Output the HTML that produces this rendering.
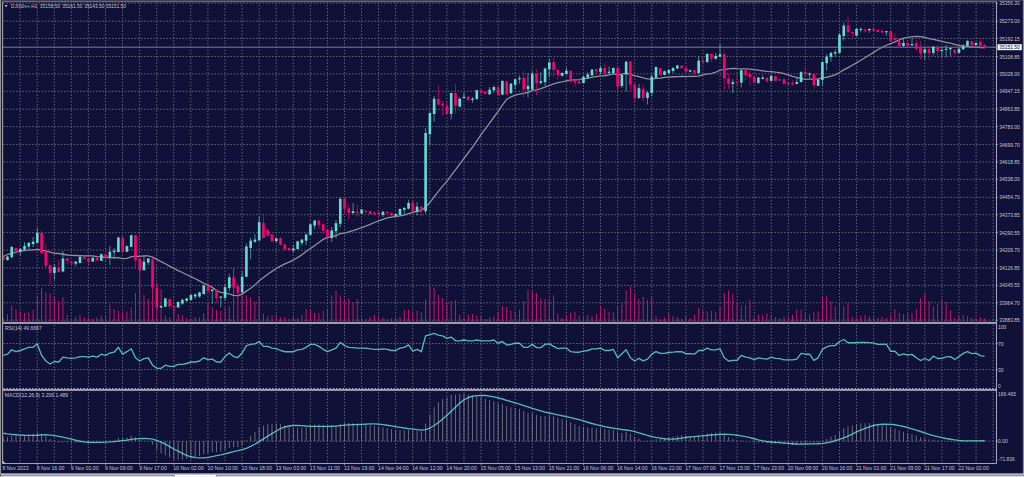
<!DOCTYPE html><html><head><meta charset="utf-8"><style>html,body{margin:0;padding:0;background:#101138;overflow:hidden}svg{display:block}text{font-family:"Liberation Sans", sans-serif}</style></head><body>
<svg width="1024" height="477" viewBox="0 0 1024 477">
<rect x="0" y="0" width="1024" height="477" fill="#101138"/>
<g>
<line x1="3.1" y1="3.20" x2="996.5" y2="3.20" stroke="#5a5c74" stroke-width="1" stroke-dasharray="1.6 1.6" stroke-dashoffset="3.06"/>
<line x1="3.1" y1="21.13" x2="996.5" y2="21.13" stroke="#5a5c74" stroke-width="1" stroke-dasharray="1.6 1.6" stroke-dashoffset="3.06"/>
<line x1="3.1" y1="38.54" x2="996.5" y2="38.54" stroke="#5a5c74" stroke-width="1" stroke-dasharray="1.6 1.6" stroke-dashoffset="3.06"/>
<line x1="3.1" y1="56.47" x2="996.5" y2="56.47" stroke="#5a5c74" stroke-width="1" stroke-dasharray="1.6 1.6" stroke-dashoffset="3.06"/>
<line x1="3.1" y1="73.88" x2="996.5" y2="73.88" stroke="#5a5c74" stroke-width="1" stroke-dasharray="1.6 1.6" stroke-dashoffset="3.06"/>
<line x1="3.1" y1="91.28" x2="996.5" y2="91.28" stroke="#5a5c74" stroke-width="1" stroke-dasharray="1.6 1.6" stroke-dashoffset="3.06"/>
<line x1="3.1" y1="109.22" x2="996.5" y2="109.22" stroke="#5a5c74" stroke-width="1" stroke-dasharray="1.6 1.6" stroke-dashoffset="3.06"/>
<line x1="3.1" y1="126.62" x2="996.5" y2="126.62" stroke="#5a5c74" stroke-width="1" stroke-dasharray="1.6 1.6" stroke-dashoffset="3.06"/>
<line x1="3.1" y1="144.56" x2="996.5" y2="144.56" stroke="#5a5c74" stroke-width="1" stroke-dasharray="1.6 1.6" stroke-dashoffset="3.06"/>
<line x1="3.1" y1="161.96" x2="996.5" y2="161.96" stroke="#5a5c74" stroke-width="1" stroke-dasharray="1.6 1.6" stroke-dashoffset="3.06"/>
<line x1="3.1" y1="179.37" x2="996.5" y2="179.37" stroke="#5a5c74" stroke-width="1" stroke-dasharray="1.6 1.6" stroke-dashoffset="3.06"/>
<line x1="3.1" y1="197.30" x2="996.5" y2="197.30" stroke="#5a5c74" stroke-width="1" stroke-dasharray="1.6 1.6" stroke-dashoffset="3.06"/>
<line x1="3.1" y1="214.71" x2="996.5" y2="214.71" stroke="#5a5c74" stroke-width="1" stroke-dasharray="1.6 1.6" stroke-dashoffset="3.06"/>
<line x1="3.1" y1="232.64" x2="996.5" y2="232.64" stroke="#5a5c74" stroke-width="1" stroke-dasharray="1.6 1.6" stroke-dashoffset="3.06"/>
<line x1="3.1" y1="250.05" x2="996.5" y2="250.05" stroke="#5a5c74" stroke-width="1" stroke-dasharray="1.6 1.6" stroke-dashoffset="3.06"/>
<line x1="3.1" y1="267.88" x2="996.5" y2="267.88" stroke="#5a5c74" stroke-width="1" stroke-dasharray="1.6 1.6" stroke-dashoffset="3.06"/>
<line x1="3.1" y1="285.39" x2="996.5" y2="285.39" stroke="#5a5c74" stroke-width="1" stroke-dasharray="1.6 1.6" stroke-dashoffset="3.06"/>
<line x1="3.1" y1="302.79" x2="996.5" y2="302.79" stroke="#5a5c74" stroke-width="1" stroke-dasharray="1.6 1.6" stroke-dashoffset="3.06"/>
<line x1="3.1" y1="320.20" x2="996.5" y2="320.20" stroke="#5a5c74" stroke-width="1" stroke-dasharray="1.6 1.6" stroke-dashoffset="3.06"/>
<line x1="20.12" y1="2.6" x2="20.12" y2="321.7" stroke="#5a5c74" stroke-width="1" stroke-dasharray="1.6 1.6" stroke-dashoffset="0.97"/>
<line x1="20.12" y1="324.3" x2="20.12" y2="388.5" stroke="#5a5c74" stroke-width="1" stroke-dasharray="1.6 1.6" stroke-dashoffset="2.67"/>
<line x1="20.12" y1="390.9" x2="20.12" y2="463.0" stroke="#5a5c74" stroke-width="1" stroke-dasharray="1.6 1.6" stroke-dashoffset="2.07"/>
<line x1="37.19" y1="2.6" x2="37.19" y2="321.7" stroke="#5a5c74" stroke-width="1" stroke-dasharray="1.6 1.6" stroke-dashoffset="0.97"/>
<line x1="37.19" y1="324.3" x2="37.19" y2="388.5" stroke="#5a5c74" stroke-width="1" stroke-dasharray="1.6 1.6" stroke-dashoffset="2.67"/>
<line x1="37.19" y1="390.9" x2="37.19" y2="463.0" stroke="#5a5c74" stroke-width="1" stroke-dasharray="1.6 1.6" stroke-dashoffset="2.07"/>
<line x1="54.26" y1="2.6" x2="54.26" y2="321.7" stroke="#5a5c74" stroke-width="1" stroke-dasharray="1.6 1.6" stroke-dashoffset="0.97"/>
<line x1="54.26" y1="324.3" x2="54.26" y2="388.5" stroke="#5a5c74" stroke-width="1" stroke-dasharray="1.6 1.6" stroke-dashoffset="2.67"/>
<line x1="54.26" y1="390.9" x2="54.26" y2="463.0" stroke="#5a5c74" stroke-width="1" stroke-dasharray="1.6 1.6" stroke-dashoffset="2.07"/>
<line x1="71.33" y1="2.6" x2="71.33" y2="321.7" stroke="#5a5c74" stroke-width="1" stroke-dasharray="1.6 1.6" stroke-dashoffset="0.97"/>
<line x1="71.33" y1="324.3" x2="71.33" y2="388.5" stroke="#5a5c74" stroke-width="1" stroke-dasharray="1.6 1.6" stroke-dashoffset="2.67"/>
<line x1="71.33" y1="390.9" x2="71.33" y2="463.0" stroke="#5a5c74" stroke-width="1" stroke-dasharray="1.6 1.6" stroke-dashoffset="2.07"/>
<line x1="88.40" y1="2.6" x2="88.40" y2="321.7" stroke="#5a5c74" stroke-width="1" stroke-dasharray="1.6 1.6" stroke-dashoffset="0.97"/>
<line x1="88.40" y1="324.3" x2="88.40" y2="388.5" stroke="#5a5c74" stroke-width="1" stroke-dasharray="1.6 1.6" stroke-dashoffset="2.67"/>
<line x1="88.40" y1="390.9" x2="88.40" y2="463.0" stroke="#5a5c74" stroke-width="1" stroke-dasharray="1.6 1.6" stroke-dashoffset="2.07"/>
<line x1="105.48" y1="2.6" x2="105.48" y2="321.7" stroke="#5a5c74" stroke-width="1" stroke-dasharray="1.6 1.6" stroke-dashoffset="0.97"/>
<line x1="105.48" y1="324.3" x2="105.48" y2="388.5" stroke="#5a5c74" stroke-width="1" stroke-dasharray="1.6 1.6" stroke-dashoffset="2.67"/>
<line x1="105.48" y1="390.9" x2="105.48" y2="463.0" stroke="#5a5c74" stroke-width="1" stroke-dasharray="1.6 1.6" stroke-dashoffset="2.07"/>
<line x1="122.55" y1="2.6" x2="122.55" y2="321.7" stroke="#5a5c74" stroke-width="1" stroke-dasharray="1.6 1.6" stroke-dashoffset="0.97"/>
<line x1="122.55" y1="324.3" x2="122.55" y2="388.5" stroke="#5a5c74" stroke-width="1" stroke-dasharray="1.6 1.6" stroke-dashoffset="2.67"/>
<line x1="122.55" y1="390.9" x2="122.55" y2="463.0" stroke="#5a5c74" stroke-width="1" stroke-dasharray="1.6 1.6" stroke-dashoffset="2.07"/>
<line x1="139.62" y1="2.6" x2="139.62" y2="321.7" stroke="#5a5c74" stroke-width="1" stroke-dasharray="1.6 1.6" stroke-dashoffset="0.97"/>
<line x1="139.62" y1="324.3" x2="139.62" y2="388.5" stroke="#5a5c74" stroke-width="1" stroke-dasharray="1.6 1.6" stroke-dashoffset="2.67"/>
<line x1="139.62" y1="390.9" x2="139.62" y2="463.0" stroke="#5a5c74" stroke-width="1" stroke-dasharray="1.6 1.6" stroke-dashoffset="2.07"/>
<line x1="156.69" y1="2.6" x2="156.69" y2="321.7" stroke="#5a5c74" stroke-width="1" stroke-dasharray="1.6 1.6" stroke-dashoffset="0.97"/>
<line x1="156.69" y1="324.3" x2="156.69" y2="388.5" stroke="#5a5c74" stroke-width="1" stroke-dasharray="1.6 1.6" stroke-dashoffset="2.67"/>
<line x1="156.69" y1="390.9" x2="156.69" y2="463.0" stroke="#5a5c74" stroke-width="1" stroke-dasharray="1.6 1.6" stroke-dashoffset="2.07"/>
<line x1="173.76" y1="2.6" x2="173.76" y2="321.7" stroke="#5a5c74" stroke-width="1" stroke-dasharray="1.6 1.6" stroke-dashoffset="0.97"/>
<line x1="173.76" y1="324.3" x2="173.76" y2="388.5" stroke="#5a5c74" stroke-width="1" stroke-dasharray="1.6 1.6" stroke-dashoffset="2.67"/>
<line x1="173.76" y1="390.9" x2="173.76" y2="463.0" stroke="#5a5c74" stroke-width="1" stroke-dasharray="1.6 1.6" stroke-dashoffset="2.07"/>
<line x1="190.83" y1="2.6" x2="190.83" y2="321.7" stroke="#5a5c74" stroke-width="1" stroke-dasharray="1.6 1.6" stroke-dashoffset="0.97"/>
<line x1="190.83" y1="324.3" x2="190.83" y2="388.5" stroke="#5a5c74" stroke-width="1" stroke-dasharray="1.6 1.6" stroke-dashoffset="2.67"/>
<line x1="190.83" y1="390.9" x2="190.83" y2="463.0" stroke="#5a5c74" stroke-width="1" stroke-dasharray="1.6 1.6" stroke-dashoffset="2.07"/>
<line x1="207.90" y1="2.6" x2="207.90" y2="321.7" stroke="#5a5c74" stroke-width="1" stroke-dasharray="1.6 1.6" stroke-dashoffset="0.97"/>
<line x1="207.90" y1="324.3" x2="207.90" y2="388.5" stroke="#5a5c74" stroke-width="1" stroke-dasharray="1.6 1.6" stroke-dashoffset="2.67"/>
<line x1="207.90" y1="390.9" x2="207.90" y2="463.0" stroke="#5a5c74" stroke-width="1" stroke-dasharray="1.6 1.6" stroke-dashoffset="2.07"/>
<line x1="224.97" y1="2.6" x2="224.97" y2="321.7" stroke="#5a5c74" stroke-width="1" stroke-dasharray="1.6 1.6" stroke-dashoffset="0.97"/>
<line x1="224.97" y1="324.3" x2="224.97" y2="388.5" stroke="#5a5c74" stroke-width="1" stroke-dasharray="1.6 1.6" stroke-dashoffset="2.67"/>
<line x1="224.97" y1="390.9" x2="224.97" y2="463.0" stroke="#5a5c74" stroke-width="1" stroke-dasharray="1.6 1.6" stroke-dashoffset="2.07"/>
<line x1="242.04" y1="2.6" x2="242.04" y2="321.7" stroke="#5a5c74" stroke-width="1" stroke-dasharray="1.6 1.6" stroke-dashoffset="0.97"/>
<line x1="242.04" y1="324.3" x2="242.04" y2="388.5" stroke="#5a5c74" stroke-width="1" stroke-dasharray="1.6 1.6" stroke-dashoffset="2.67"/>
<line x1="242.04" y1="390.9" x2="242.04" y2="463.0" stroke="#5a5c74" stroke-width="1" stroke-dasharray="1.6 1.6" stroke-dashoffset="2.07"/>
<line x1="259.11" y1="2.6" x2="259.11" y2="321.7" stroke="#5a5c74" stroke-width="1" stroke-dasharray="1.6 1.6" stroke-dashoffset="0.97"/>
<line x1="259.11" y1="324.3" x2="259.11" y2="388.5" stroke="#5a5c74" stroke-width="1" stroke-dasharray="1.6 1.6" stroke-dashoffset="2.67"/>
<line x1="259.11" y1="390.9" x2="259.11" y2="463.0" stroke="#5a5c74" stroke-width="1" stroke-dasharray="1.6 1.6" stroke-dashoffset="2.07"/>
<line x1="276.19" y1="2.6" x2="276.19" y2="321.7" stroke="#5a5c74" stroke-width="1" stroke-dasharray="1.6 1.6" stroke-dashoffset="0.97"/>
<line x1="276.19" y1="324.3" x2="276.19" y2="388.5" stroke="#5a5c74" stroke-width="1" stroke-dasharray="1.6 1.6" stroke-dashoffset="2.67"/>
<line x1="276.19" y1="390.9" x2="276.19" y2="463.0" stroke="#5a5c74" stroke-width="1" stroke-dasharray="1.6 1.6" stroke-dashoffset="2.07"/>
<line x1="293.26" y1="2.6" x2="293.26" y2="321.7" stroke="#5a5c74" stroke-width="1" stroke-dasharray="1.6 1.6" stroke-dashoffset="0.97"/>
<line x1="293.26" y1="324.3" x2="293.26" y2="388.5" stroke="#5a5c74" stroke-width="1" stroke-dasharray="1.6 1.6" stroke-dashoffset="2.67"/>
<line x1="293.26" y1="390.9" x2="293.26" y2="463.0" stroke="#5a5c74" stroke-width="1" stroke-dasharray="1.6 1.6" stroke-dashoffset="2.07"/>
<line x1="310.33" y1="2.6" x2="310.33" y2="321.7" stroke="#5a5c74" stroke-width="1" stroke-dasharray="1.6 1.6" stroke-dashoffset="0.97"/>
<line x1="310.33" y1="324.3" x2="310.33" y2="388.5" stroke="#5a5c74" stroke-width="1" stroke-dasharray="1.6 1.6" stroke-dashoffset="2.67"/>
<line x1="310.33" y1="390.9" x2="310.33" y2="463.0" stroke="#5a5c74" stroke-width="1" stroke-dasharray="1.6 1.6" stroke-dashoffset="2.07"/>
<line x1="327.40" y1="2.6" x2="327.40" y2="321.7" stroke="#5a5c74" stroke-width="1" stroke-dasharray="1.6 1.6" stroke-dashoffset="0.97"/>
<line x1="327.40" y1="324.3" x2="327.40" y2="388.5" stroke="#5a5c74" stroke-width="1" stroke-dasharray="1.6 1.6" stroke-dashoffset="2.67"/>
<line x1="327.40" y1="390.9" x2="327.40" y2="463.0" stroke="#5a5c74" stroke-width="1" stroke-dasharray="1.6 1.6" stroke-dashoffset="2.07"/>
<line x1="344.47" y1="2.6" x2="344.47" y2="321.7" stroke="#5a5c74" stroke-width="1" stroke-dasharray="1.6 1.6" stroke-dashoffset="0.97"/>
<line x1="344.47" y1="324.3" x2="344.47" y2="388.5" stroke="#5a5c74" stroke-width="1" stroke-dasharray="1.6 1.6" stroke-dashoffset="2.67"/>
<line x1="344.47" y1="390.9" x2="344.47" y2="463.0" stroke="#5a5c74" stroke-width="1" stroke-dasharray="1.6 1.6" stroke-dashoffset="2.07"/>
<line x1="361.54" y1="2.6" x2="361.54" y2="321.7" stroke="#5a5c74" stroke-width="1" stroke-dasharray="1.6 1.6" stroke-dashoffset="0.97"/>
<line x1="361.54" y1="324.3" x2="361.54" y2="388.5" stroke="#5a5c74" stroke-width="1" stroke-dasharray="1.6 1.6" stroke-dashoffset="2.67"/>
<line x1="361.54" y1="390.9" x2="361.54" y2="463.0" stroke="#5a5c74" stroke-width="1" stroke-dasharray="1.6 1.6" stroke-dashoffset="2.07"/>
<line x1="378.61" y1="2.6" x2="378.61" y2="321.7" stroke="#5a5c74" stroke-width="1" stroke-dasharray="1.6 1.6" stroke-dashoffset="0.97"/>
<line x1="378.61" y1="324.3" x2="378.61" y2="388.5" stroke="#5a5c74" stroke-width="1" stroke-dasharray="1.6 1.6" stroke-dashoffset="2.67"/>
<line x1="378.61" y1="390.9" x2="378.61" y2="463.0" stroke="#5a5c74" stroke-width="1" stroke-dasharray="1.6 1.6" stroke-dashoffset="2.07"/>
<line x1="395.68" y1="2.6" x2="395.68" y2="321.7" stroke="#5a5c74" stroke-width="1" stroke-dasharray="1.6 1.6" stroke-dashoffset="0.97"/>
<line x1="395.68" y1="324.3" x2="395.68" y2="388.5" stroke="#5a5c74" stroke-width="1" stroke-dasharray="1.6 1.6" stroke-dashoffset="2.67"/>
<line x1="395.68" y1="390.9" x2="395.68" y2="463.0" stroke="#5a5c74" stroke-width="1" stroke-dasharray="1.6 1.6" stroke-dashoffset="2.07"/>
<line x1="412.75" y1="2.6" x2="412.75" y2="321.7" stroke="#5a5c74" stroke-width="1" stroke-dasharray="1.6 1.6" stroke-dashoffset="0.97"/>
<line x1="412.75" y1="324.3" x2="412.75" y2="388.5" stroke="#5a5c74" stroke-width="1" stroke-dasharray="1.6 1.6" stroke-dashoffset="2.67"/>
<line x1="412.75" y1="390.9" x2="412.75" y2="463.0" stroke="#5a5c74" stroke-width="1" stroke-dasharray="1.6 1.6" stroke-dashoffset="2.07"/>
<line x1="429.82" y1="2.6" x2="429.82" y2="321.7" stroke="#5a5c74" stroke-width="1" stroke-dasharray="1.6 1.6" stroke-dashoffset="0.97"/>
<line x1="429.82" y1="324.3" x2="429.82" y2="388.5" stroke="#5a5c74" stroke-width="1" stroke-dasharray="1.6 1.6" stroke-dashoffset="2.67"/>
<line x1="429.82" y1="390.9" x2="429.82" y2="463.0" stroke="#5a5c74" stroke-width="1" stroke-dasharray="1.6 1.6" stroke-dashoffset="2.07"/>
<line x1="446.90" y1="2.6" x2="446.90" y2="321.7" stroke="#5a5c74" stroke-width="1" stroke-dasharray="1.6 1.6" stroke-dashoffset="0.97"/>
<line x1="446.90" y1="324.3" x2="446.90" y2="388.5" stroke="#5a5c74" stroke-width="1" stroke-dasharray="1.6 1.6" stroke-dashoffset="2.67"/>
<line x1="446.90" y1="390.9" x2="446.90" y2="463.0" stroke="#5a5c74" stroke-width="1" stroke-dasharray="1.6 1.6" stroke-dashoffset="2.07"/>
<line x1="463.97" y1="2.6" x2="463.97" y2="321.7" stroke="#5a5c74" stroke-width="1" stroke-dasharray="1.6 1.6" stroke-dashoffset="0.97"/>
<line x1="463.97" y1="324.3" x2="463.97" y2="388.5" stroke="#5a5c74" stroke-width="1" stroke-dasharray="1.6 1.6" stroke-dashoffset="2.67"/>
<line x1="463.97" y1="390.9" x2="463.97" y2="463.0" stroke="#5a5c74" stroke-width="1" stroke-dasharray="1.6 1.6" stroke-dashoffset="2.07"/>
<line x1="481.04" y1="2.6" x2="481.04" y2="321.7" stroke="#5a5c74" stroke-width="1" stroke-dasharray="1.6 1.6" stroke-dashoffset="0.97"/>
<line x1="481.04" y1="324.3" x2="481.04" y2="388.5" stroke="#5a5c74" stroke-width="1" stroke-dasharray="1.6 1.6" stroke-dashoffset="2.67"/>
<line x1="481.04" y1="390.9" x2="481.04" y2="463.0" stroke="#5a5c74" stroke-width="1" stroke-dasharray="1.6 1.6" stroke-dashoffset="2.07"/>
<line x1="498.11" y1="2.6" x2="498.11" y2="321.7" stroke="#5a5c74" stroke-width="1" stroke-dasharray="1.6 1.6" stroke-dashoffset="0.97"/>
<line x1="498.11" y1="324.3" x2="498.11" y2="388.5" stroke="#5a5c74" stroke-width="1" stroke-dasharray="1.6 1.6" stroke-dashoffset="2.67"/>
<line x1="498.11" y1="390.9" x2="498.11" y2="463.0" stroke="#5a5c74" stroke-width="1" stroke-dasharray="1.6 1.6" stroke-dashoffset="2.07"/>
<line x1="515.18" y1="2.6" x2="515.18" y2="321.7" stroke="#5a5c74" stroke-width="1" stroke-dasharray="1.6 1.6" stroke-dashoffset="0.97"/>
<line x1="515.18" y1="324.3" x2="515.18" y2="388.5" stroke="#5a5c74" stroke-width="1" stroke-dasharray="1.6 1.6" stroke-dashoffset="2.67"/>
<line x1="515.18" y1="390.9" x2="515.18" y2="463.0" stroke="#5a5c74" stroke-width="1" stroke-dasharray="1.6 1.6" stroke-dashoffset="2.07"/>
<line x1="532.25" y1="2.6" x2="532.25" y2="321.7" stroke="#5a5c74" stroke-width="1" stroke-dasharray="1.6 1.6" stroke-dashoffset="0.97"/>
<line x1="532.25" y1="324.3" x2="532.25" y2="388.5" stroke="#5a5c74" stroke-width="1" stroke-dasharray="1.6 1.6" stroke-dashoffset="2.67"/>
<line x1="532.25" y1="390.9" x2="532.25" y2="463.0" stroke="#5a5c74" stroke-width="1" stroke-dasharray="1.6 1.6" stroke-dashoffset="2.07"/>
<line x1="549.32" y1="2.6" x2="549.32" y2="321.7" stroke="#5a5c74" stroke-width="1" stroke-dasharray="1.6 1.6" stroke-dashoffset="0.97"/>
<line x1="549.32" y1="324.3" x2="549.32" y2="388.5" stroke="#5a5c74" stroke-width="1" stroke-dasharray="1.6 1.6" stroke-dashoffset="2.67"/>
<line x1="549.32" y1="390.9" x2="549.32" y2="463.0" stroke="#5a5c74" stroke-width="1" stroke-dasharray="1.6 1.6" stroke-dashoffset="2.07"/>
<line x1="566.39" y1="2.6" x2="566.39" y2="321.7" stroke="#5a5c74" stroke-width="1" stroke-dasharray="1.6 1.6" stroke-dashoffset="0.97"/>
<line x1="566.39" y1="324.3" x2="566.39" y2="388.5" stroke="#5a5c74" stroke-width="1" stroke-dasharray="1.6 1.6" stroke-dashoffset="2.67"/>
<line x1="566.39" y1="390.9" x2="566.39" y2="463.0" stroke="#5a5c74" stroke-width="1" stroke-dasharray="1.6 1.6" stroke-dashoffset="2.07"/>
<line x1="583.46" y1="2.6" x2="583.46" y2="321.7" stroke="#5a5c74" stroke-width="1" stroke-dasharray="1.6 1.6" stroke-dashoffset="0.97"/>
<line x1="583.46" y1="324.3" x2="583.46" y2="388.5" stroke="#5a5c74" stroke-width="1" stroke-dasharray="1.6 1.6" stroke-dashoffset="2.67"/>
<line x1="583.46" y1="390.9" x2="583.46" y2="463.0" stroke="#5a5c74" stroke-width="1" stroke-dasharray="1.6 1.6" stroke-dashoffset="2.07"/>
<line x1="600.53" y1="2.6" x2="600.53" y2="321.7" stroke="#5a5c74" stroke-width="1" stroke-dasharray="1.6 1.6" stroke-dashoffset="0.97"/>
<line x1="600.53" y1="324.3" x2="600.53" y2="388.5" stroke="#5a5c74" stroke-width="1" stroke-dasharray="1.6 1.6" stroke-dashoffset="2.67"/>
<line x1="600.53" y1="390.9" x2="600.53" y2="463.0" stroke="#5a5c74" stroke-width="1" stroke-dasharray="1.6 1.6" stroke-dashoffset="2.07"/>
<line x1="617.61" y1="2.6" x2="617.61" y2="321.7" stroke="#5a5c74" stroke-width="1" stroke-dasharray="1.6 1.6" stroke-dashoffset="0.97"/>
<line x1="617.61" y1="324.3" x2="617.61" y2="388.5" stroke="#5a5c74" stroke-width="1" stroke-dasharray="1.6 1.6" stroke-dashoffset="2.67"/>
<line x1="617.61" y1="390.9" x2="617.61" y2="463.0" stroke="#5a5c74" stroke-width="1" stroke-dasharray="1.6 1.6" stroke-dashoffset="2.07"/>
<line x1="634.68" y1="2.6" x2="634.68" y2="321.7" stroke="#5a5c74" stroke-width="1" stroke-dasharray="1.6 1.6" stroke-dashoffset="0.97"/>
<line x1="634.68" y1="324.3" x2="634.68" y2="388.5" stroke="#5a5c74" stroke-width="1" stroke-dasharray="1.6 1.6" stroke-dashoffset="2.67"/>
<line x1="634.68" y1="390.9" x2="634.68" y2="463.0" stroke="#5a5c74" stroke-width="1" stroke-dasharray="1.6 1.6" stroke-dashoffset="2.07"/>
<line x1="651.75" y1="2.6" x2="651.75" y2="321.7" stroke="#5a5c74" stroke-width="1" stroke-dasharray="1.6 1.6" stroke-dashoffset="0.97"/>
<line x1="651.75" y1="324.3" x2="651.75" y2="388.5" stroke="#5a5c74" stroke-width="1" stroke-dasharray="1.6 1.6" stroke-dashoffset="2.67"/>
<line x1="651.75" y1="390.9" x2="651.75" y2="463.0" stroke="#5a5c74" stroke-width="1" stroke-dasharray="1.6 1.6" stroke-dashoffset="2.07"/>
<line x1="668.82" y1="2.6" x2="668.82" y2="321.7" stroke="#5a5c74" stroke-width="1" stroke-dasharray="1.6 1.6" stroke-dashoffset="0.97"/>
<line x1="668.82" y1="324.3" x2="668.82" y2="388.5" stroke="#5a5c74" stroke-width="1" stroke-dasharray="1.6 1.6" stroke-dashoffset="2.67"/>
<line x1="668.82" y1="390.9" x2="668.82" y2="463.0" stroke="#5a5c74" stroke-width="1" stroke-dasharray="1.6 1.6" stroke-dashoffset="2.07"/>
<line x1="685.89" y1="2.6" x2="685.89" y2="321.7" stroke="#5a5c74" stroke-width="1" stroke-dasharray="1.6 1.6" stroke-dashoffset="0.97"/>
<line x1="685.89" y1="324.3" x2="685.89" y2="388.5" stroke="#5a5c74" stroke-width="1" stroke-dasharray="1.6 1.6" stroke-dashoffset="2.67"/>
<line x1="685.89" y1="390.9" x2="685.89" y2="463.0" stroke="#5a5c74" stroke-width="1" stroke-dasharray="1.6 1.6" stroke-dashoffset="2.07"/>
<line x1="702.96" y1="2.6" x2="702.96" y2="321.7" stroke="#5a5c74" stroke-width="1" stroke-dasharray="1.6 1.6" stroke-dashoffset="0.97"/>
<line x1="702.96" y1="324.3" x2="702.96" y2="388.5" stroke="#5a5c74" stroke-width="1" stroke-dasharray="1.6 1.6" stroke-dashoffset="2.67"/>
<line x1="702.96" y1="390.9" x2="702.96" y2="463.0" stroke="#5a5c74" stroke-width="1" stroke-dasharray="1.6 1.6" stroke-dashoffset="2.07"/>
<line x1="720.03" y1="2.6" x2="720.03" y2="321.7" stroke="#5a5c74" stroke-width="1" stroke-dasharray="1.6 1.6" stroke-dashoffset="0.97"/>
<line x1="720.03" y1="324.3" x2="720.03" y2="388.5" stroke="#5a5c74" stroke-width="1" stroke-dasharray="1.6 1.6" stroke-dashoffset="2.67"/>
<line x1="720.03" y1="390.9" x2="720.03" y2="463.0" stroke="#5a5c74" stroke-width="1" stroke-dasharray="1.6 1.6" stroke-dashoffset="2.07"/>
<line x1="737.10" y1="2.6" x2="737.10" y2="321.7" stroke="#5a5c74" stroke-width="1" stroke-dasharray="1.6 1.6" stroke-dashoffset="0.97"/>
<line x1="737.10" y1="324.3" x2="737.10" y2="388.5" stroke="#5a5c74" stroke-width="1" stroke-dasharray="1.6 1.6" stroke-dashoffset="2.67"/>
<line x1="737.10" y1="390.9" x2="737.10" y2="463.0" stroke="#5a5c74" stroke-width="1" stroke-dasharray="1.6 1.6" stroke-dashoffset="2.07"/>
<line x1="754.17" y1="2.6" x2="754.17" y2="321.7" stroke="#5a5c74" stroke-width="1" stroke-dasharray="1.6 1.6" stroke-dashoffset="0.97"/>
<line x1="754.17" y1="324.3" x2="754.17" y2="388.5" stroke="#5a5c74" stroke-width="1" stroke-dasharray="1.6 1.6" stroke-dashoffset="2.67"/>
<line x1="754.17" y1="390.9" x2="754.17" y2="463.0" stroke="#5a5c74" stroke-width="1" stroke-dasharray="1.6 1.6" stroke-dashoffset="2.07"/>
<line x1="771.24" y1="2.6" x2="771.24" y2="321.7" stroke="#5a5c74" stroke-width="1" stroke-dasharray="1.6 1.6" stroke-dashoffset="0.97"/>
<line x1="771.24" y1="324.3" x2="771.24" y2="388.5" stroke="#5a5c74" stroke-width="1" stroke-dasharray="1.6 1.6" stroke-dashoffset="2.67"/>
<line x1="771.24" y1="390.9" x2="771.24" y2="463.0" stroke="#5a5c74" stroke-width="1" stroke-dasharray="1.6 1.6" stroke-dashoffset="2.07"/>
<line x1="788.32" y1="2.6" x2="788.32" y2="321.7" stroke="#5a5c74" stroke-width="1" stroke-dasharray="1.6 1.6" stroke-dashoffset="0.97"/>
<line x1="788.32" y1="324.3" x2="788.32" y2="388.5" stroke="#5a5c74" stroke-width="1" stroke-dasharray="1.6 1.6" stroke-dashoffset="2.67"/>
<line x1="788.32" y1="390.9" x2="788.32" y2="463.0" stroke="#5a5c74" stroke-width="1" stroke-dasharray="1.6 1.6" stroke-dashoffset="2.07"/>
<line x1="805.39" y1="2.6" x2="805.39" y2="321.7" stroke="#5a5c74" stroke-width="1" stroke-dasharray="1.6 1.6" stroke-dashoffset="0.97"/>
<line x1="805.39" y1="324.3" x2="805.39" y2="388.5" stroke="#5a5c74" stroke-width="1" stroke-dasharray="1.6 1.6" stroke-dashoffset="2.67"/>
<line x1="805.39" y1="390.9" x2="805.39" y2="463.0" stroke="#5a5c74" stroke-width="1" stroke-dasharray="1.6 1.6" stroke-dashoffset="2.07"/>
<line x1="822.46" y1="2.6" x2="822.46" y2="321.7" stroke="#5a5c74" stroke-width="1" stroke-dasharray="1.6 1.6" stroke-dashoffset="0.97"/>
<line x1="822.46" y1="324.3" x2="822.46" y2="388.5" stroke="#5a5c74" stroke-width="1" stroke-dasharray="1.6 1.6" stroke-dashoffset="2.67"/>
<line x1="822.46" y1="390.9" x2="822.46" y2="463.0" stroke="#5a5c74" stroke-width="1" stroke-dasharray="1.6 1.6" stroke-dashoffset="2.07"/>
<line x1="839.53" y1="2.6" x2="839.53" y2="321.7" stroke="#5a5c74" stroke-width="1" stroke-dasharray="1.6 1.6" stroke-dashoffset="0.97"/>
<line x1="839.53" y1="324.3" x2="839.53" y2="388.5" stroke="#5a5c74" stroke-width="1" stroke-dasharray="1.6 1.6" stroke-dashoffset="2.67"/>
<line x1="839.53" y1="390.9" x2="839.53" y2="463.0" stroke="#5a5c74" stroke-width="1" stroke-dasharray="1.6 1.6" stroke-dashoffset="2.07"/>
<line x1="856.60" y1="2.6" x2="856.60" y2="321.7" stroke="#5a5c74" stroke-width="1" stroke-dasharray="1.6 1.6" stroke-dashoffset="0.97"/>
<line x1="856.60" y1="324.3" x2="856.60" y2="388.5" stroke="#5a5c74" stroke-width="1" stroke-dasharray="1.6 1.6" stroke-dashoffset="2.67"/>
<line x1="856.60" y1="390.9" x2="856.60" y2="463.0" stroke="#5a5c74" stroke-width="1" stroke-dasharray="1.6 1.6" stroke-dashoffset="2.07"/>
<line x1="873.67" y1="2.6" x2="873.67" y2="321.7" stroke="#5a5c74" stroke-width="1" stroke-dasharray="1.6 1.6" stroke-dashoffset="0.97"/>
<line x1="873.67" y1="324.3" x2="873.67" y2="388.5" stroke="#5a5c74" stroke-width="1" stroke-dasharray="1.6 1.6" stroke-dashoffset="2.67"/>
<line x1="873.67" y1="390.9" x2="873.67" y2="463.0" stroke="#5a5c74" stroke-width="1" stroke-dasharray="1.6 1.6" stroke-dashoffset="2.07"/>
<line x1="890.74" y1="2.6" x2="890.74" y2="321.7" stroke="#5a5c74" stroke-width="1" stroke-dasharray="1.6 1.6" stroke-dashoffset="0.97"/>
<line x1="890.74" y1="324.3" x2="890.74" y2="388.5" stroke="#5a5c74" stroke-width="1" stroke-dasharray="1.6 1.6" stroke-dashoffset="2.67"/>
<line x1="890.74" y1="390.9" x2="890.74" y2="463.0" stroke="#5a5c74" stroke-width="1" stroke-dasharray="1.6 1.6" stroke-dashoffset="2.07"/>
<line x1="907.81" y1="2.6" x2="907.81" y2="321.7" stroke="#5a5c74" stroke-width="1" stroke-dasharray="1.6 1.6" stroke-dashoffset="0.97"/>
<line x1="907.81" y1="324.3" x2="907.81" y2="388.5" stroke="#5a5c74" stroke-width="1" stroke-dasharray="1.6 1.6" stroke-dashoffset="2.67"/>
<line x1="907.81" y1="390.9" x2="907.81" y2="463.0" stroke="#5a5c74" stroke-width="1" stroke-dasharray="1.6 1.6" stroke-dashoffset="2.07"/>
<line x1="924.88" y1="2.6" x2="924.88" y2="321.7" stroke="#5a5c74" stroke-width="1" stroke-dasharray="1.6 1.6" stroke-dashoffset="0.97"/>
<line x1="924.88" y1="324.3" x2="924.88" y2="388.5" stroke="#5a5c74" stroke-width="1" stroke-dasharray="1.6 1.6" stroke-dashoffset="2.67"/>
<line x1="924.88" y1="390.9" x2="924.88" y2="463.0" stroke="#5a5c74" stroke-width="1" stroke-dasharray="1.6 1.6" stroke-dashoffset="2.07"/>
<line x1="941.95" y1="2.6" x2="941.95" y2="321.7" stroke="#5a5c74" stroke-width="1" stroke-dasharray="1.6 1.6" stroke-dashoffset="0.97"/>
<line x1="941.95" y1="324.3" x2="941.95" y2="388.5" stroke="#5a5c74" stroke-width="1" stroke-dasharray="1.6 1.6" stroke-dashoffset="2.67"/>
<line x1="941.95" y1="390.9" x2="941.95" y2="463.0" stroke="#5a5c74" stroke-width="1" stroke-dasharray="1.6 1.6" stroke-dashoffset="2.07"/>
<line x1="959.03" y1="2.6" x2="959.03" y2="321.7" stroke="#5a5c74" stroke-width="1" stroke-dasharray="1.6 1.6" stroke-dashoffset="0.97"/>
<line x1="959.03" y1="324.3" x2="959.03" y2="388.5" stroke="#5a5c74" stroke-width="1" stroke-dasharray="1.6 1.6" stroke-dashoffset="2.67"/>
<line x1="959.03" y1="390.9" x2="959.03" y2="463.0" stroke="#5a5c74" stroke-width="1" stroke-dasharray="1.6 1.6" stroke-dashoffset="2.07"/>
<line x1="976.10" y1="2.6" x2="976.10" y2="321.7" stroke="#5a5c74" stroke-width="1" stroke-dasharray="1.6 1.6" stroke-dashoffset="0.97"/>
<line x1="976.10" y1="324.3" x2="976.10" y2="388.5" stroke="#5a5c74" stroke-width="1" stroke-dasharray="1.6 1.6" stroke-dashoffset="2.67"/>
<line x1="976.10" y1="390.9" x2="976.10" y2="463.0" stroke="#5a5c74" stroke-width="1" stroke-dasharray="1.6 1.6" stroke-dashoffset="2.07"/>
<line x1="993.17" y1="2.6" x2="993.17" y2="321.7" stroke="#5a5c74" stroke-width="1" stroke-dasharray="1.6 1.6" stroke-dashoffset="0.97"/>
<line x1="993.17" y1="324.3" x2="993.17" y2="388.5" stroke="#5a5c74" stroke-width="1" stroke-dasharray="1.6 1.6" stroke-dashoffset="2.67"/>
<line x1="993.17" y1="390.9" x2="993.17" y2="463.0" stroke="#5a5c74" stroke-width="1" stroke-dasharray="1.6 1.6" stroke-dashoffset="2.07"/>
<line x1="3.1" y1="343.50" x2="996.5" y2="343.50" stroke="#5a5c74" stroke-width="1" stroke-dasharray="1.6 1.6" stroke-dashoffset="3.06"/>
<line x1="3.1" y1="369.60" x2="996.5" y2="369.60" stroke="#5a5c74" stroke-width="1" stroke-dasharray="1.6 1.6" stroke-dashoffset="3.06"/>
<line x1="3.1" y1="441.20" x2="996.5" y2="441.20" stroke="#5a5c74" stroke-width="1" stroke-dasharray="1.6 1.6" stroke-dashoffset="3.06"/>
</g>
<g stroke="#c0146a" stroke-width="1">
<line x1="3.20" y1="317.3" x2="3.20" y2="321.5"/>
<line x1="7.47" y1="314.0" x2="7.47" y2="321.5"/>
<line x1="11.73" y1="305.7" x2="11.73" y2="321.5"/>
<line x1="16.00" y1="309.0" x2="16.00" y2="321.5"/>
<line x1="20.27" y1="311.5" x2="20.27" y2="321.5"/>
<line x1="24.53" y1="312.8" x2="24.53" y2="321.5"/>
<line x1="28.80" y1="312.3" x2="28.80" y2="321.5"/>
<line x1="33.07" y1="309.9" x2="33.07" y2="321.5"/>
<line x1="37.33" y1="295.8" x2="37.33" y2="321.5"/>
<line x1="41.60" y1="288.0" x2="41.60" y2="321.5"/>
<line x1="45.87" y1="292.4" x2="45.87" y2="321.5"/>
<line x1="50.13" y1="293.3" x2="50.13" y2="321.5"/>
<line x1="54.40" y1="296.6" x2="54.40" y2="321.5"/>
<line x1="58.67" y1="300.7" x2="58.67" y2="321.5"/>
<line x1="62.93" y1="296.9" x2="62.93" y2="321.5"/>
<line x1="67.20" y1="314.8" x2="67.20" y2="321.5"/>
<line x1="71.47" y1="318.5" x2="71.47" y2="321.5"/>
<line x1="75.73" y1="316.8" x2="75.73" y2="321.5"/>
<line x1="80.00" y1="314.8" x2="80.00" y2="321.5"/>
<line x1="84.27" y1="317.3" x2="84.27" y2="321.5"/>
<line x1="88.53" y1="317.8" x2="88.53" y2="321.5"/>
<line x1="92.80" y1="319.0" x2="92.80" y2="321.5"/>
<line x1="97.07" y1="317.3" x2="97.07" y2="321.5"/>
<line x1="101.33" y1="315.7" x2="101.33" y2="321.5"/>
<line x1="105.60" y1="314.8" x2="105.60" y2="321.5"/>
<line x1="109.87" y1="304.5" x2="109.87" y2="321.5"/>
<line x1="114.13" y1="309.0" x2="114.13" y2="321.5"/>
<line x1="118.40" y1="310.7" x2="118.40" y2="321.5"/>
<line x1="122.67" y1="311.5" x2="122.67" y2="321.5"/>
<line x1="126.93" y1="311.5" x2="126.93" y2="321.5"/>
<line x1="131.20" y1="307.4" x2="131.20" y2="321.5"/>
<line x1="135.47" y1="292.9" x2="135.47" y2="321.5"/>
<line x1="139.73" y1="268.0" x2="139.73" y2="321.5"/>
<line x1="144.00" y1="294.9" x2="144.00" y2="321.5"/>
<line x1="148.27" y1="299.0" x2="148.27" y2="321.5"/>
<line x1="152.53" y1="283.0" x2="152.53" y2="321.5"/>
<line x1="156.80" y1="283.3" x2="156.80" y2="321.5"/>
<line x1="161.07" y1="289.0" x2="161.07" y2="321.5"/>
<line x1="165.33" y1="315.6" x2="165.33" y2="321.5"/>
<line x1="169.60" y1="317.3" x2="169.60" y2="321.5"/>
<line x1="173.87" y1="306.0" x2="173.87" y2="321.5"/>
<line x1="178.13" y1="314.0" x2="178.13" y2="321.5"/>
<line x1="182.40" y1="314.8" x2="182.40" y2="321.5"/>
<line x1="186.67" y1="318.1" x2="186.67" y2="321.5"/>
<line x1="190.93" y1="319.0" x2="190.93" y2="321.5"/>
<line x1="195.20" y1="316.8" x2="195.20" y2="321.5"/>
<line x1="199.47" y1="317.3" x2="199.47" y2="321.5"/>
<line x1="203.73" y1="313.2" x2="203.73" y2="321.5"/>
<line x1="208.00" y1="304.0" x2="208.00" y2="321.5"/>
<line x1="212.27" y1="306.9" x2="212.27" y2="321.5"/>
<line x1="216.53" y1="309.8" x2="216.53" y2="321.5"/>
<line x1="220.80" y1="310.7" x2="220.80" y2="321.5"/>
<line x1="225.07" y1="307.8" x2="225.07" y2="321.5"/>
<line x1="229.34" y1="306.5" x2="229.34" y2="321.5"/>
<line x1="233.60" y1="268.0" x2="233.60" y2="321.5"/>
<line x1="237.87" y1="293.2" x2="237.87" y2="321.5"/>
<line x1="242.14" y1="294.9" x2="242.14" y2="321.5"/>
<line x1="246.40" y1="295.7" x2="246.40" y2="321.5"/>
<line x1="250.67" y1="296.9" x2="250.67" y2="321.5"/>
<line x1="254.94" y1="301.5" x2="254.94" y2="321.5"/>
<line x1="259.20" y1="296.2" x2="259.20" y2="321.5"/>
<line x1="263.47" y1="313.5" x2="263.47" y2="321.5"/>
<line x1="267.74" y1="316.1" x2="267.74" y2="321.5"/>
<line x1="272.00" y1="315.6" x2="272.00" y2="321.5"/>
<line x1="276.27" y1="314.8" x2="276.27" y2="321.5"/>
<line x1="280.54" y1="317.3" x2="280.54" y2="321.5"/>
<line x1="284.80" y1="316.8" x2="284.80" y2="321.5"/>
<line x1="289.07" y1="318.5" x2="289.07" y2="321.5"/>
<line x1="293.34" y1="316.5" x2="293.34" y2="321.5"/>
<line x1="297.60" y1="318.1" x2="297.60" y2="321.5"/>
<line x1="301.87" y1="314.8" x2="301.87" y2="321.5"/>
<line x1="306.14" y1="309.0" x2="306.14" y2="321.5"/>
<line x1="310.40" y1="309.5" x2="310.40" y2="321.5"/>
<line x1="314.67" y1="312.8" x2="314.67" y2="321.5"/>
<line x1="318.94" y1="312.8" x2="318.94" y2="321.5"/>
<line x1="323.20" y1="311.2" x2="323.20" y2="321.5"/>
<line x1="327.47" y1="309.0" x2="327.47" y2="321.5"/>
<line x1="331.74" y1="295.7" x2="331.74" y2="321.5"/>
<line x1="336.00" y1="290.8" x2="336.00" y2="321.5"/>
<line x1="340.27" y1="295.7" x2="340.27" y2="321.5"/>
<line x1="344.54" y1="299.0" x2="344.54" y2="321.5"/>
<line x1="348.80" y1="298.6" x2="348.80" y2="321.5"/>
<line x1="353.07" y1="302.4" x2="353.07" y2="321.5"/>
<line x1="357.34" y1="299.0" x2="357.34" y2="321.5"/>
<line x1="361.60" y1="317.8" x2="361.60" y2="321.5"/>
<line x1="365.87" y1="319.0" x2="365.87" y2="321.5"/>
<line x1="370.14" y1="316.8" x2="370.14" y2="321.5"/>
<line x1="374.40" y1="314.8" x2="374.40" y2="321.5"/>
<line x1="378.67" y1="317.3" x2="378.67" y2="321.5"/>
<line x1="382.94" y1="317.8" x2="382.94" y2="321.5"/>
<line x1="387.20" y1="319.5" x2="387.20" y2="321.5"/>
<line x1="391.47" y1="318.5" x2="391.47" y2="321.5"/>
<line x1="395.74" y1="317.8" x2="395.74" y2="321.5"/>
<line x1="400.00" y1="316.8" x2="400.00" y2="321.5"/>
<line x1="404.27" y1="309.8" x2="404.27" y2="321.5"/>
<line x1="408.54" y1="309.8" x2="408.54" y2="321.5"/>
<line x1="412.80" y1="311.5" x2="412.80" y2="321.5"/>
<line x1="417.07" y1="310.7" x2="417.07" y2="321.5"/>
<line x1="421.34" y1="312.3" x2="421.34" y2="321.5"/>
<line x1="425.60" y1="299.5" x2="425.60" y2="321.5"/>
<line x1="429.87" y1="286.6" x2="429.87" y2="321.5"/>
<line x1="434.14" y1="287.4" x2="434.14" y2="321.5"/>
<line x1="438.40" y1="294.9" x2="438.40" y2="321.5"/>
<line x1="442.67" y1="298.2" x2="442.67" y2="321.5"/>
<line x1="446.94" y1="302.4" x2="446.94" y2="321.5"/>
<line x1="451.20" y1="300.7" x2="451.20" y2="321.5"/>
<line x1="455.47" y1="299.9" x2="455.47" y2="321.5"/>
<line x1="459.74" y1="314.8" x2="459.74" y2="321.5"/>
<line x1="464.00" y1="317.8" x2="464.00" y2="321.5"/>
<line x1="468.27" y1="314.5" x2="468.27" y2="321.5"/>
<line x1="472.54" y1="314.0" x2="472.54" y2="321.5"/>
<line x1="476.80" y1="315.7" x2="476.80" y2="321.5"/>
<line x1="481.07" y1="316.1" x2="481.07" y2="321.5"/>
<line x1="485.34" y1="319.0" x2="485.34" y2="321.5"/>
<line x1="489.60" y1="317.3" x2="489.60" y2="321.5"/>
<line x1="493.87" y1="316.1" x2="493.87" y2="321.5"/>
<line x1="498.14" y1="312.3" x2="498.14" y2="321.5"/>
<line x1="502.40" y1="305.7" x2="502.40" y2="321.5"/>
<line x1="506.67" y1="306.9" x2="506.67" y2="321.5"/>
<line x1="510.94" y1="310.7" x2="510.94" y2="321.5"/>
<line x1="515.20" y1="311.5" x2="515.20" y2="321.5"/>
<line x1="519.47" y1="309.8" x2="519.47" y2="321.5"/>
<line x1="523.74" y1="301.2" x2="523.74" y2="321.5"/>
<line x1="528.00" y1="289.6" x2="528.00" y2="321.5"/>
<line x1="532.27" y1="290.8" x2="532.27" y2="321.5"/>
<line x1="536.54" y1="293.2" x2="536.54" y2="321.5"/>
<line x1="540.80" y1="298.6" x2="540.80" y2="321.5"/>
<line x1="545.07" y1="298.6" x2="545.07" y2="321.5"/>
<line x1="549.34" y1="299.5" x2="549.34" y2="321.5"/>
<line x1="553.60" y1="295.7" x2="553.60" y2="321.5"/>
<line x1="557.87" y1="313.5" x2="557.87" y2="321.5"/>
<line x1="562.14" y1="318.1" x2="562.14" y2="321.5"/>
<line x1="566.40" y1="315.7" x2="566.40" y2="321.5"/>
<line x1="570.67" y1="312.3" x2="570.67" y2="321.5"/>
<line x1="574.94" y1="311.8" x2="574.94" y2="321.5"/>
<line x1="579.20" y1="315.7" x2="579.20" y2="321.5"/>
<line x1="583.47" y1="316.8" x2="583.47" y2="321.5"/>
<line x1="587.74" y1="314.8" x2="587.74" y2="321.5"/>
<line x1="592.00" y1="316.1" x2="592.00" y2="321.5"/>
<line x1="596.27" y1="313.5" x2="596.27" y2="321.5"/>
<line x1="600.54" y1="306.2" x2="600.54" y2="321.5"/>
<line x1="604.80" y1="309.0" x2="604.80" y2="321.5"/>
<line x1="609.07" y1="311.8" x2="609.07" y2="321.5"/>
<line x1="613.34" y1="312.3" x2="613.34" y2="321.5"/>
<line x1="617.60" y1="305.7" x2="617.60" y2="321.5"/>
<line x1="621.87" y1="302.9" x2="621.87" y2="321.5"/>
<line x1="626.14" y1="289.9" x2="626.14" y2="321.5"/>
<line x1="630.40" y1="286.3" x2="630.40" y2="321.5"/>
<line x1="634.67" y1="292.9" x2="634.67" y2="321.5"/>
<line x1="638.94" y1="299.0" x2="638.94" y2="321.5"/>
<line x1="643.21" y1="296.9" x2="643.21" y2="321.5"/>
<line x1="647.47" y1="299.9" x2="647.47" y2="321.5"/>
<line x1="651.74" y1="296.9" x2="651.74" y2="321.5"/>
<line x1="656.01" y1="315.7" x2="656.01" y2="321.5"/>
<line x1="660.27" y1="319.0" x2="660.27" y2="321.5"/>
<line x1="664.54" y1="317.3" x2="664.54" y2="321.5"/>
<line x1="668.81" y1="313.5" x2="668.81" y2="321.5"/>
<line x1="673.07" y1="316.1" x2="673.07" y2="321.5"/>
<line x1="677.34" y1="316.8" x2="677.34" y2="321.5"/>
<line x1="681.61" y1="319.0" x2="681.61" y2="321.5"/>
<line x1="685.87" y1="316.5" x2="685.87" y2="321.5"/>
<line x1="690.14" y1="318.1" x2="690.14" y2="321.5"/>
<line x1="694.41" y1="314.8" x2="694.41" y2="321.5"/>
<line x1="698.67" y1="307.8" x2="698.67" y2="321.5"/>
<line x1="702.94" y1="310.7" x2="702.94" y2="321.5"/>
<line x1="707.21" y1="311.8" x2="707.21" y2="321.5"/>
<line x1="711.47" y1="310.7" x2="711.47" y2="321.5"/>
<line x1="715.74" y1="311.8" x2="715.74" y2="321.5"/>
<line x1="720.01" y1="306.5" x2="720.01" y2="321.5"/>
<line x1="724.27" y1="292.9" x2="724.27" y2="321.5"/>
<line x1="728.54" y1="290.3" x2="728.54" y2="321.5"/>
<line x1="732.81" y1="293.6" x2="732.81" y2="321.5"/>
<line x1="737.07" y1="302.4" x2="737.07" y2="321.5"/>
<line x1="741.34" y1="305.7" x2="741.34" y2="321.5"/>
<line x1="745.61" y1="304.9" x2="745.61" y2="321.5"/>
<line x1="749.87" y1="299.9" x2="749.87" y2="321.5"/>
<line x1="754.14" y1="317.3" x2="754.14" y2="321.5"/>
<line x1="758.41" y1="314.8" x2="758.41" y2="321.5"/>
<line x1="762.67" y1="314.8" x2="762.67" y2="321.5"/>
<line x1="766.94" y1="313.2" x2="766.94" y2="321.5"/>
<line x1="771.21" y1="314.8" x2="771.21" y2="321.5"/>
<line x1="775.47" y1="316.8" x2="775.47" y2="321.5"/>
<line x1="779.74" y1="318.1" x2="779.74" y2="321.5"/>
<line x1="784.01" y1="316.8" x2="784.01" y2="321.5"/>
<line x1="788.27" y1="317.3" x2="788.27" y2="321.5"/>
<line x1="792.54" y1="314.8" x2="792.54" y2="321.5"/>
<line x1="796.81" y1="309.0" x2="796.81" y2="321.5"/>
<line x1="801.07" y1="309.8" x2="801.07" y2="321.5"/>
<line x1="805.34" y1="313.5" x2="805.34" y2="321.5"/>
<line x1="809.61" y1="314.0" x2="809.61" y2="321.5"/>
<line x1="813.87" y1="311.8" x2="813.87" y2="321.5"/>
<line x1="818.14" y1="311.5" x2="818.14" y2="321.5"/>
<line x1="822.41" y1="296.9" x2="822.41" y2="321.5"/>
<line x1="826.67" y1="295.7" x2="826.67" y2="321.5"/>
<line x1="830.94" y1="301.2" x2="830.94" y2="321.5"/>
<line x1="835.21" y1="306.5" x2="835.21" y2="321.5"/>
<line x1="839.47" y1="302.4" x2="839.47" y2="321.5"/>
<line x1="843.74" y1="305.7" x2="843.74" y2="321.5"/>
<line x1="848.01" y1="302.9" x2="848.01" y2="321.5"/>
<line x1="852.27" y1="316.8" x2="852.27" y2="321.5"/>
<line x1="856.54" y1="318.1" x2="856.54" y2="321.5"/>
<line x1="860.81" y1="315.7" x2="860.81" y2="321.5"/>
<line x1="865.07" y1="314.5" x2="865.07" y2="321.5"/>
<line x1="869.34" y1="316.1" x2="869.34" y2="321.5"/>
<line x1="873.61" y1="317.3" x2="873.61" y2="321.5"/>
<line x1="877.87" y1="318.1" x2="877.87" y2="321.5"/>
<line x1="882.14" y1="316.8" x2="882.14" y2="321.5"/>
<line x1="886.41" y1="317.8" x2="886.41" y2="321.5"/>
<line x1="890.67" y1="314.8" x2="890.67" y2="321.5"/>
<line x1="894.94" y1="309.0" x2="894.94" y2="321.5"/>
<line x1="899.21" y1="312.8" x2="899.21" y2="321.5"/>
<line x1="903.47" y1="314.0" x2="903.47" y2="321.5"/>
<line x1="907.74" y1="313.5" x2="907.74" y2="321.5"/>
<line x1="912.01" y1="312.8" x2="912.01" y2="321.5"/>
<line x1="916.27" y1="309.0" x2="916.27" y2="321.5"/>
<line x1="920.54" y1="298.2" x2="920.54" y2="321.5"/>
<line x1="924.81" y1="293.6" x2="924.81" y2="321.5"/>
<line x1="929.07" y1="301.2" x2="929.07" y2="321.5"/>
<line x1="933.34" y1="306.2" x2="933.34" y2="321.5"/>
<line x1="937.61" y1="304.0" x2="937.61" y2="321.5"/>
<line x1="941.87" y1="299.5" x2="941.87" y2="321.5"/>
<line x1="946.14" y1="302.4" x2="946.14" y2="321.5"/>
<line x1="950.41" y1="310.2" x2="950.41" y2="321.5"/>
<line x1="954.67" y1="317.8" x2="954.67" y2="321.5"/>
<line x1="958.94" y1="316.1" x2="958.94" y2="321.5"/>
<line x1="963.21" y1="315.0" x2="963.21" y2="321.5"/>
<line x1="967.47" y1="316.1" x2="967.47" y2="321.5"/>
<line x1="971.74" y1="317.9" x2="971.74" y2="321.5"/>
<line x1="976.01" y1="318.3" x2="976.01" y2="321.5"/>
<line x1="980.27" y1="316.9" x2="980.27" y2="321.5"/>
<line x1="984.54" y1="318.3" x2="984.54" y2="321.5"/>
</g>
<polyline fill="none" stroke="#8e8e9c" stroke-width="1.3" stroke-linejoin="round" points="3.20,256.60 7.47,254.47 11.73,253.32 16.00,252.18 20.27,250.98 24.53,250.57 28.80,250.18 33.07,249.82 37.33,249.47 41.60,250.13 45.87,251.05 50.13,252.10 54.40,253.31 58.67,253.50 62.93,254.24 67.20,254.99 71.47,255.34 75.73,255.52 80.00,255.71 84.27,255.81 88.53,255.86 92.80,255.93 97.07,256.55 101.33,256.82 105.60,257.25 109.87,257.55 114.13,257.94 118.40,257.74 122.67,258.69 126.93,258.35 131.20,256.81 135.47,256.19 139.73,256.34 144.00,255.81 148.27,255.81 152.53,257.15 156.80,259.41 161.07,261.62 165.33,263.72 169.60,266.09 173.87,268.34 178.13,270.55 182.40,272.52 186.67,274.74 190.93,276.62 195.20,278.75 199.47,280.84 203.73,283.24 208.00,285.18 212.27,287.36 216.53,290.50 220.80,292.31 225.07,293.16 229.34,293.94 233.60,295.39 237.87,295.65 242.14,294.10 246.40,291.12 250.67,288.24 254.94,284.90 259.20,280.67 263.47,277.47 267.74,274.25 272.00,271.39 276.27,268.55 280.54,266.07 284.80,263.91 289.07,262.15 293.34,260.03 297.60,257.61 301.87,254.69 306.14,251.58 310.40,248.44 314.67,245.60 318.94,242.47 323.20,239.37 327.47,237.39 331.74,236.59 336.00,235.72 340.27,233.68 344.54,233.03 348.80,231.78 353.07,230.56 357.34,229.16 361.60,227.71 365.87,226.07 370.14,224.31 374.40,222.49 378.67,220.79 382.94,219.31 387.20,217.99 391.47,217.03 395.74,216.52 400.00,215.95 404.27,215.10 408.54,213.71 412.80,212.44 417.07,211.25 421.34,210.61 425.60,207.31 429.87,202.52 434.14,196.80 438.40,191.46 442.67,186.10 446.94,181.33 451.20,175.38 455.47,169.97 459.74,164.21 464.00,158.32 468.27,152.74 472.54,147.02 476.80,140.76 481.07,134.70 485.34,128.95 489.60,123.04 493.87,117.25 498.14,111.41 502.40,105.11 506.67,99.31 510.94,96.84 515.20,95.16 519.47,94.13 523.74,93.38 528.00,92.39 532.27,90.37 536.54,89.87 540.80,88.64 545.07,87.13 549.34,85.42 553.60,83.91 557.87,82.73 562.14,81.87 566.40,80.76 570.67,80.14 574.94,79.78 579.20,79.60 583.47,78.69 587.74,78.37 592.00,77.14 596.27,76.52 600.54,75.95 604.80,75.74 609.07,74.85 613.34,73.96 617.60,74.60 621.87,74.19 626.14,73.22 630.40,74.02 634.67,75.80 638.94,76.71 643.21,77.85 647.47,78.83 651.74,79.13 656.01,78.41 660.27,78.03 664.54,77.42 668.81,77.08 673.07,76.76 677.34,76.56 681.61,76.40 685.87,76.59 690.14,76.40 694.41,76.47 698.67,76.10 702.94,74.87 707.21,73.83 711.47,73.67 715.74,72.24 720.01,70.06 724.27,69.58 728.54,68.88 732.81,68.35 737.07,68.65 741.34,68.81 745.61,68.81 749.87,69.10 754.14,69.73 758.41,70.21 762.67,70.81 766.94,71.46 771.21,71.67 775.47,72.19 779.74,72.55 784.01,73.70 788.27,74.80 792.54,76.33 796.81,77.49 801.07,78.30 805.34,79.29 809.61,79.04 813.87,79.09 818.14,78.96 822.41,77.94 826.67,77.25 830.94,76.14 835.21,74.89 839.47,72.50 843.74,69.90 848.01,67.62 852.27,65.22 856.54,62.87 860.81,60.27 865.07,57.80 869.34,55.06 873.61,52.39 877.87,49.77 882.14,47.30 886.41,45.24 890.67,43.59 894.94,41.91 899.21,39.95 903.47,38.11 907.74,37.30 912.01,36.67 916.27,36.46 920.54,36.53 924.81,37.26 929.07,38.63 933.34,39.36 937.61,40.27 941.87,41.32 946.14,42.31 950.41,43.18 954.67,44.38 958.94,45.28 963.21,45.99 967.47,46.41 971.74,47.12 976.01,47.22 980.27,47.52 984.54,47.60"/>
<line x1="2.6" y1="47.2" x2="996.5" y2="47.2" stroke="#7a7c8e" stroke-width="1"/>
<g>
<line x1="3.20" y1="255.0" x2="3.20" y2="260.0" stroke="#ff006e" stroke-width="0.8" stroke-opacity="0.75"/>
<rect x="1.90" y="255.8" width="2.6" height="4.10" fill="#ff006e"/>
<line x1="7.47" y1="255.8" x2="7.47" y2="260.8" stroke="#64dcd2" stroke-width="0.8" stroke-opacity="0.75"/>
<rect x="6.17" y="256.7" width="2.6" height="3.20" fill="#64dcd2"/>
<line x1="11.73" y1="245.8" x2="11.73" y2="258.5" stroke="#64dcd2" stroke-width="0.8" stroke-opacity="0.75"/>
<rect x="10.43" y="246.9" width="2.6" height="10.20" fill="#64dcd2"/>
<line x1="16.00" y1="247.6" x2="16.00" y2="254.4" stroke="#ff006e" stroke-width="0.8" stroke-opacity="0.75"/>
<rect x="14.70" y="248.0" width="2.6" height="3.70" fill="#ff006e"/>
<line x1="20.27" y1="248.2" x2="20.27" y2="255.4" stroke="#64dcd2" stroke-width="0.8" stroke-opacity="0.75"/>
<rect x="18.97" y="248.9" width="2.6" height="2.80" fill="#64dcd2"/>
<line x1="24.53" y1="242.1" x2="24.53" y2="250.3" stroke="#64dcd2" stroke-width="0.8" stroke-opacity="0.75"/>
<rect x="23.23" y="245.8" width="2.6" height="3.80" fill="#64dcd2"/>
<line x1="28.80" y1="242.1" x2="28.80" y2="249.6" stroke="#64dcd2" stroke-width="0.8" stroke-opacity="0.75"/>
<rect x="27.50" y="242.8" width="2.6" height="3.80" fill="#64dcd2"/>
<line x1="33.07" y1="237.0" x2="33.07" y2="246.9" stroke="#64dcd2" stroke-width="0.8" stroke-opacity="0.75"/>
<rect x="31.77" y="241.7" width="2.6" height="2.40" fill="#64dcd2"/>
<line x1="37.33" y1="228.0" x2="37.33" y2="243.5" stroke="#64dcd2" stroke-width="0.8" stroke-opacity="0.75"/>
<rect x="36.03" y="232.9" width="2.6" height="9.90" fill="#64dcd2"/>
<line x1="41.60" y1="230.7" x2="41.60" y2="253.0" stroke="#ff006e" stroke-width="0.8" stroke-opacity="0.75"/>
<rect x="40.30" y="232.9" width="2.6" height="20.10" fill="#ff006e"/>
<line x1="45.87" y1="245.2" x2="45.87" y2="267.4" stroke="#ff006e" stroke-width="0.8" stroke-opacity="0.75"/>
<rect x="44.57" y="251.7" width="2.6" height="14.30" fill="#ff006e"/>
<line x1="50.13" y1="264.6" x2="50.13" y2="284.5" stroke="#ff006e" stroke-width="0.8" stroke-opacity="0.75"/>
<rect x="48.83" y="265.3" width="2.6" height="7.60" fill="#ff006e"/>
<line x1="54.40" y1="264.0" x2="54.40" y2="279.7" stroke="#64dcd2" stroke-width="0.8" stroke-opacity="0.75"/>
<rect x="53.10" y="267.1" width="2.6" height="5.80" fill="#64dcd2"/>
<line x1="58.67" y1="259.9" x2="58.67" y2="272.2" stroke="#ff006e" stroke-width="0.8" stroke-opacity="0.75"/>
<rect x="57.37" y="267.1" width="2.6" height="5.10" fill="#ff006e"/>
<line x1="62.93" y1="251.0" x2="62.93" y2="272.2" stroke="#64dcd2" stroke-width="0.8" stroke-opacity="0.75"/>
<rect x="61.63" y="258.5" width="2.6" height="13.00" fill="#64dcd2"/>
<line x1="67.20" y1="257.8" x2="67.20" y2="264.9" stroke="#ff006e" stroke-width="0.8" stroke-opacity="0.75"/>
<rect x="65.90" y="258.5" width="2.6" height="2.30" fill="#ff006e"/>
<line x1="71.47" y1="261.2" x2="71.47" y2="266.0" stroke="#ff006e" stroke-width="0.8" stroke-opacity="0.75"/>
<rect x="70.17" y="261.6" width="2.6" height="1.20" fill="#ff006e"/>
<line x1="75.73" y1="260.8" x2="75.73" y2="266.0" stroke="#64dcd2" stroke-width="0.8" stroke-opacity="0.75"/>
<rect x="74.43" y="261.6" width="2.6" height="2.00" fill="#64dcd2"/>
<line x1="80.00" y1="256.2" x2="80.00" y2="263.3" stroke="#64dcd2" stroke-width="0.8" stroke-opacity="0.75"/>
<rect x="78.70" y="256.7" width="2.6" height="6.30" fill="#64dcd2"/>
<line x1="84.27" y1="255.8" x2="84.27" y2="259.2" stroke="#ff006e" stroke-width="0.8" stroke-opacity="0.75"/>
<rect x="82.97" y="256.7" width="2.6" height="2.20" fill="#ff006e"/>
<line x1="88.53" y1="257.8" x2="88.53" y2="266.0" stroke="#ff006e" stroke-width="0.8" stroke-opacity="0.75"/>
<rect x="87.23" y="258.5" width="2.6" height="3.10" fill="#ff006e"/>
<line x1="92.80" y1="257.1" x2="92.80" y2="261.9" stroke="#64dcd2" stroke-width="0.8" stroke-opacity="0.75"/>
<rect x="91.50" y="257.8" width="2.6" height="3.80" fill="#64dcd2"/>
<line x1="97.07" y1="257.1" x2="97.07" y2="260.8" stroke="#ff006e" stroke-width="0.8" stroke-opacity="0.75"/>
<rect x="95.77" y="257.8" width="2.6" height="2.70" fill="#ff006e"/>
<line x1="101.33" y1="253.7" x2="101.33" y2="261.2" stroke="#64dcd2" stroke-width="0.8" stroke-opacity="0.75"/>
<rect x="100.03" y="254.1" width="2.6" height="6.70" fill="#64dcd2"/>
<line x1="105.60" y1="253.7" x2="105.60" y2="261.9" stroke="#ff006e" stroke-width="0.8" stroke-opacity="0.75"/>
<rect x="104.30" y="254.1" width="2.6" height="3.40" fill="#ff006e"/>
<line x1="109.87" y1="245.8" x2="109.87" y2="264.9" stroke="#64dcd2" stroke-width="0.8" stroke-opacity="0.75"/>
<rect x="108.57" y="251.7" width="2.6" height="5.80" fill="#64dcd2"/>
<line x1="114.13" y1="248.2" x2="114.13" y2="258.9" stroke="#64dcd2" stroke-width="0.8" stroke-opacity="0.75"/>
<rect x="112.83" y="250.7" width="2.6" height="1.60" fill="#64dcd2"/>
<line x1="118.40" y1="236.6" x2="118.40" y2="252.3" stroke="#64dcd2" stroke-width="0.8" stroke-opacity="0.75"/>
<rect x="117.10" y="237.6" width="2.6" height="14.40" fill="#64dcd2"/>
<line x1="122.67" y1="237.0" x2="122.67" y2="252.3" stroke="#ff006e" stroke-width="0.8" stroke-opacity="0.75"/>
<rect x="121.37" y="237.6" width="2.6" height="14.40" fill="#ff006e"/>
<line x1="126.93" y1="245.5" x2="126.93" y2="252.1" stroke="#64dcd2" stroke-width="0.8" stroke-opacity="0.75"/>
<rect x="125.63" y="246.2" width="2.6" height="5.50" fill="#64dcd2"/>
<line x1="131.20" y1="234.8" x2="131.20" y2="247.1" stroke="#64dcd2" stroke-width="0.8" stroke-opacity="0.75"/>
<rect x="129.90" y="235.3" width="2.6" height="11.60" fill="#64dcd2"/>
<line x1="135.47" y1="234.8" x2="135.47" y2="267.7" stroke="#ff006e" stroke-width="0.8" stroke-opacity="0.75"/>
<rect x="134.17" y="235.3" width="2.6" height="25.00" fill="#ff006e"/>
<line x1="139.73" y1="255.5" x2="139.73" y2="270.5" stroke="#ff006e" stroke-width="0.8" stroke-opacity="0.75"/>
<rect x="138.43" y="258.9" width="2.6" height="11.30" fill="#ff006e"/>
<line x1="144.00" y1="255.5" x2="144.00" y2="270.5" stroke="#64dcd2" stroke-width="0.8" stroke-opacity="0.75"/>
<rect x="142.70" y="261.6" width="2.6" height="8.60" fill="#64dcd2"/>
<line x1="148.27" y1="258.2" x2="148.27" y2="265.0" stroke="#64dcd2" stroke-width="0.8" stroke-opacity="0.75"/>
<rect x="146.97" y="258.5" width="2.6" height="4.10" fill="#64dcd2"/>
<line x1="152.53" y1="258.2" x2="152.53" y2="288.0" stroke="#ff006e" stroke-width="0.8" stroke-opacity="0.75"/>
<rect x="151.23" y="259.3" width="2.6" height="28.30" fill="#ff006e"/>
<line x1="156.80" y1="283.5" x2="156.80" y2="308.0" stroke="#ff006e" stroke-width="0.8" stroke-opacity="0.75"/>
<rect x="155.50" y="288.0" width="2.6" height="19.70" fill="#ff006e"/>
<line x1="161.07" y1="305.4" x2="161.07" y2="308.1" stroke="#64dcd2" stroke-width="0.8" stroke-opacity="0.75"/>
<rect x="159.77" y="306.0" width="2.6" height="1.40" fill="#64dcd2"/>
<line x1="165.33" y1="297.9" x2="165.33" y2="307.2" stroke="#64dcd2" stroke-width="0.8" stroke-opacity="0.75"/>
<rect x="164.03" y="298.5" width="2.6" height="8.20" fill="#64dcd2"/>
<line x1="169.60" y1="298.5" x2="169.60" y2="309.5" stroke="#ff006e" stroke-width="0.8" stroke-opacity="0.75"/>
<rect x="168.30" y="299.2" width="2.6" height="7.10" fill="#ff006e"/>
<line x1="173.87" y1="305.4" x2="173.87" y2="314.0" stroke="#ff006e" stroke-width="0.8" stroke-opacity="0.75"/>
<rect x="172.57" y="305.8" width="2.6" height="1.20" fill="#ff006e"/>
<line x1="178.13" y1="301.3" x2="178.13" y2="308.1" stroke="#64dcd2" stroke-width="0.8" stroke-opacity="0.75"/>
<rect x="176.83" y="302.0" width="2.6" height="5.40" fill="#64dcd2"/>
<line x1="182.40" y1="298.5" x2="182.40" y2="304.7" stroke="#64dcd2" stroke-width="0.8" stroke-opacity="0.75"/>
<rect x="181.10" y="299.9" width="2.6" height="3.70" fill="#64dcd2"/>
<line x1="186.67" y1="297.9" x2="186.67" y2="301.3" stroke="#64dcd2" stroke-width="0.8" stroke-opacity="0.75"/>
<rect x="185.37" y="298.5" width="2.6" height="2.40" fill="#64dcd2"/>
<line x1="190.93" y1="294.0" x2="190.93" y2="300.6" stroke="#64dcd2" stroke-width="0.8" stroke-opacity="0.75"/>
<rect x="189.63" y="295.1" width="2.6" height="4.80" fill="#64dcd2"/>
<line x1="195.20" y1="293.5" x2="195.20" y2="299.0" stroke="#64dcd2" stroke-width="0.8" stroke-opacity="0.75"/>
<rect x="193.90" y="294.4" width="2.6" height="2.10" fill="#64dcd2"/>
<line x1="199.47" y1="291.7" x2="199.47" y2="297.9" stroke="#64dcd2" stroke-width="0.8" stroke-opacity="0.75"/>
<rect x="198.17" y="292.4" width="2.6" height="4.10" fill="#64dcd2"/>
<line x1="203.73" y1="284.9" x2="203.73" y2="294.4" stroke="#64dcd2" stroke-width="0.8" stroke-opacity="0.75"/>
<rect x="202.43" y="285.5" width="2.6" height="8.50" fill="#64dcd2"/>
<line x1="208.00" y1="282.8" x2="208.00" y2="293.0" stroke="#ff006e" stroke-width="0.8" stroke-opacity="0.75"/>
<rect x="206.70" y="285.8" width="2.6" height="5.20" fill="#ff006e"/>
<line x1="212.27" y1="289.0" x2="212.27" y2="304.0" stroke="#64dcd2" stroke-width="0.8" stroke-opacity="0.75"/>
<rect x="210.97" y="289.6" width="2.6" height="1.40" fill="#64dcd2"/>
<line x1="216.53" y1="289.0" x2="216.53" y2="303.3" stroke="#ff006e" stroke-width="0.8" stroke-opacity="0.75"/>
<rect x="215.23" y="289.6" width="2.6" height="8.50" fill="#ff006e"/>
<line x1="220.80" y1="296.5" x2="220.80" y2="307.4" stroke="#64dcd2" stroke-width="0.8" stroke-opacity="0.75"/>
<rect x="219.50" y="296.5" width="2.6" height="1.20" fill="#64dcd2"/>
<line x1="225.07" y1="284.2" x2="225.07" y2="300.6" stroke="#64dcd2" stroke-width="0.8" stroke-opacity="0.75"/>
<rect x="223.77" y="287.2" width="2.6" height="10.70" fill="#64dcd2"/>
<line x1="229.34" y1="273.9" x2="229.34" y2="291.0" stroke="#64dcd2" stroke-width="0.8" stroke-opacity="0.75"/>
<rect x="228.04" y="277.3" width="2.6" height="10.70" fill="#64dcd2"/>
<line x1="233.60" y1="267.8" x2="233.60" y2="295.0" stroke="#ff006e" stroke-width="0.8" stroke-opacity="0.75"/>
<rect x="232.30" y="277.3" width="2.6" height="10.30" fill="#ff006e"/>
<line x1="237.87" y1="282.8" x2="237.87" y2="296.0" stroke="#ff006e" stroke-width="0.8" stroke-opacity="0.75"/>
<rect x="236.57" y="286.2" width="2.6" height="6.50" fill="#ff006e"/>
<line x1="242.14" y1="271.2" x2="242.14" y2="293.0" stroke="#64dcd2" stroke-width="0.8" stroke-opacity="0.75"/>
<rect x="240.84" y="276.7" width="2.6" height="15.70" fill="#64dcd2"/>
<line x1="246.40" y1="243.5" x2="246.40" y2="277.3" stroke="#64dcd2" stroke-width="0.8" stroke-opacity="0.75"/>
<rect x="245.10" y="246.5" width="2.6" height="30.20" fill="#64dcd2"/>
<line x1="250.67" y1="237.6" x2="250.67" y2="259.5" stroke="#64dcd2" stroke-width="0.8" stroke-opacity="0.75"/>
<rect x="249.37" y="240.7" width="2.6" height="7.20" fill="#64dcd2"/>
<line x1="254.94" y1="234.2" x2="254.94" y2="243.1" stroke="#64dcd2" stroke-width="0.8" stroke-opacity="0.75"/>
<rect x="253.64" y="239.6" width="2.6" height="2.10" fill="#64dcd2"/>
<line x1="259.20" y1="216.4" x2="259.20" y2="241.0" stroke="#64dcd2" stroke-width="0.8" stroke-opacity="0.75"/>
<rect x="257.90" y="222.1" width="2.6" height="18.20" fill="#64dcd2"/>
<line x1="263.47" y1="215.3" x2="263.47" y2="238.6" stroke="#ff006e" stroke-width="0.8" stroke-opacity="0.75"/>
<rect x="262.17" y="223.0" width="2.6" height="15.00" fill="#ff006e"/>
<line x1="267.74" y1="228.0" x2="267.74" y2="236.2" stroke="#ff006e" stroke-width="0.8" stroke-opacity="0.75"/>
<rect x="266.44" y="230.0" width="2.6" height="5.50" fill="#ff006e"/>
<line x1="272.00" y1="234.2" x2="272.00" y2="241.7" stroke="#ff006e" stroke-width="0.8" stroke-opacity="0.75"/>
<rect x="270.70" y="234.5" width="2.6" height="6.80" fill="#ff006e"/>
<line x1="276.27" y1="237.6" x2="276.27" y2="242.4" stroke="#64dcd2" stroke-width="0.8" stroke-opacity="0.75"/>
<rect x="274.97" y="238.3" width="2.6" height="2.70" fill="#64dcd2"/>
<line x1="280.54" y1="237.2" x2="280.54" y2="245.4" stroke="#ff006e" stroke-width="0.8" stroke-opacity="0.75"/>
<rect x="279.24" y="238.0" width="2.6" height="6.80" fill="#ff006e"/>
<line x1="284.80" y1="243.8" x2="284.80" y2="250.9" stroke="#ff006e" stroke-width="0.8" stroke-opacity="0.75"/>
<rect x="283.50" y="244.4" width="2.6" height="4.80" fill="#ff006e"/>
<line x1="289.07" y1="247.8" x2="289.07" y2="250.9" stroke="#ff006e" stroke-width="0.8" stroke-opacity="0.75"/>
<rect x="287.77" y="248.1" width="2.6" height="2.20" fill="#ff006e"/>
<line x1="293.34" y1="245.0" x2="293.34" y2="252.6" stroke="#64dcd2" stroke-width="0.8" stroke-opacity="0.75"/>
<rect x="292.04" y="248.5" width="2.6" height="1.80" fill="#64dcd2"/>
<line x1="297.60" y1="240.7" x2="297.60" y2="249.5" stroke="#64dcd2" stroke-width="0.8" stroke-opacity="0.75"/>
<rect x="296.30" y="241.3" width="2.6" height="7.70" fill="#64dcd2"/>
<line x1="301.87" y1="239.0" x2="301.87" y2="245.4" stroke="#64dcd2" stroke-width="0.8" stroke-opacity="0.75"/>
<rect x="300.57" y="239.6" width="2.6" height="3.40" fill="#64dcd2"/>
<line x1="306.14" y1="233.5" x2="306.14" y2="245.0" stroke="#64dcd2" stroke-width="0.8" stroke-opacity="0.75"/>
<rect x="304.84" y="234.5" width="2.6" height="6.20" fill="#64dcd2"/>
<line x1="310.40" y1="223.5" x2="310.40" y2="235.3" stroke="#64dcd2" stroke-width="0.8" stroke-opacity="0.75"/>
<rect x="309.10" y="224.3" width="2.6" height="10.60" fill="#64dcd2"/>
<line x1="314.67" y1="219.8" x2="314.67" y2="229.4" stroke="#64dcd2" stroke-width="0.8" stroke-opacity="0.75"/>
<rect x="313.37" y="220.5" width="2.6" height="5.20" fill="#64dcd2"/>
<line x1="318.94" y1="219.8" x2="318.94" y2="229.4" stroke="#ff006e" stroke-width="0.8" stroke-opacity="0.75"/>
<rect x="317.64" y="220.5" width="2.6" height="4.40" fill="#ff006e"/>
<line x1="323.20" y1="223.5" x2="323.20" y2="233.9" stroke="#ff006e" stroke-width="0.8" stroke-opacity="0.75"/>
<rect x="321.90" y="224.3" width="2.6" height="6.50" fill="#ff006e"/>
<line x1="327.47" y1="229.0" x2="327.47" y2="242.4" stroke="#ff006e" stroke-width="0.8" stroke-opacity="0.75"/>
<rect x="326.17" y="229.8" width="2.6" height="7.40" fill="#ff006e"/>
<line x1="331.74" y1="227.0" x2="331.74" y2="242.0" stroke="#64dcd2" stroke-width="0.8" stroke-opacity="0.75"/>
<rect x="330.44" y="230.4" width="2.6" height="7.60" fill="#64dcd2"/>
<line x1="336.00" y1="219.8" x2="336.00" y2="238.3" stroke="#64dcd2" stroke-width="0.8" stroke-opacity="0.75"/>
<rect x="334.70" y="223.2" width="2.6" height="8.00" fill="#64dcd2"/>
<line x1="340.27" y1="197.1" x2="340.27" y2="227.2" stroke="#64dcd2" stroke-width="0.8" stroke-opacity="0.75"/>
<rect x="338.97" y="198.9" width="2.6" height="24.90" fill="#64dcd2"/>
<line x1="344.54" y1="197.1" x2="344.54" y2="214.2" stroke="#ff006e" stroke-width="0.8" stroke-opacity="0.75"/>
<rect x="343.24" y="198.9" width="2.6" height="10.10" fill="#ff006e"/>
<line x1="348.80" y1="204.6" x2="348.80" y2="219.9" stroke="#ff006e" stroke-width="0.8" stroke-opacity="0.75"/>
<rect x="347.50" y="208.4" width="2.6" height="4.70" fill="#ff006e"/>
<line x1="353.07" y1="203.0" x2="353.07" y2="213.9" stroke="#64dcd2" stroke-width="0.8" stroke-opacity="0.75"/>
<rect x="351.77" y="211.2" width="2.6" height="1.90" fill="#64dcd2"/>
<line x1="357.34" y1="204.6" x2="357.34" y2="216.9" stroke="#ff006e" stroke-width="0.8" stroke-opacity="0.75"/>
<rect x="356.04" y="211.7" width="2.6" height="1.40" fill="#ff006e"/>
<line x1="361.60" y1="209.0" x2="361.60" y2="214.2" stroke="#64dcd2" stroke-width="0.8" stroke-opacity="0.75"/>
<rect x="360.30" y="209.4" width="2.6" height="4.10" fill="#64dcd2"/>
<line x1="365.87" y1="209.8" x2="365.87" y2="212.8" stroke="#ff006e" stroke-width="0.8" stroke-opacity="0.75"/>
<rect x="364.57" y="210.8" width="2.6" height="1.30" fill="#ff006e"/>
<line x1="370.14" y1="210.8" x2="370.14" y2="214.5" stroke="#ff006e" stroke-width="0.8" stroke-opacity="0.75"/>
<rect x="368.84" y="211.2" width="2.6" height="2.70" fill="#ff006e"/>
<line x1="374.40" y1="211.5" x2="374.40" y2="215.8" stroke="#ff006e" stroke-width="0.8" stroke-opacity="0.75"/>
<rect x="373.10" y="212.5" width="2.6" height="1.40" fill="#ff006e"/>
<line x1="378.67" y1="211.7" x2="378.67" y2="214.9" stroke="#ff006e" stroke-width="0.8" stroke-opacity="0.75"/>
<rect x="377.37" y="212.5" width="2.6" height="2.00" fill="#ff006e"/>
<line x1="382.94" y1="211.2" x2="382.94" y2="216.9" stroke="#64dcd2" stroke-width="0.8" stroke-opacity="0.75"/>
<rect x="381.64" y="211.7" width="2.6" height="3.20" fill="#64dcd2"/>
<line x1="387.20" y1="211.2" x2="387.20" y2="214.2" stroke="#ff006e" stroke-width="0.8" stroke-opacity="0.75"/>
<rect x="385.90" y="211.7" width="2.6" height="1.40" fill="#ff006e"/>
<line x1="391.47" y1="212.5" x2="391.47" y2="216.6" stroke="#ff006e" stroke-width="0.8" stroke-opacity="0.75"/>
<rect x="390.17" y="212.8" width="2.6" height="2.50" fill="#ff006e"/>
<line x1="395.74" y1="213.5" x2="395.74" y2="216.2" stroke="#64dcd2" stroke-width="0.8" stroke-opacity="0.75"/>
<rect x="394.44" y="214.2" width="2.6" height="1.60" fill="#64dcd2"/>
<line x1="400.00" y1="208.4" x2="400.00" y2="215.5" stroke="#64dcd2" stroke-width="0.8" stroke-opacity="0.75"/>
<rect x="398.70" y="209.0" width="2.6" height="5.90" fill="#64dcd2"/>
<line x1="404.27" y1="207.0" x2="404.27" y2="214.2" stroke="#64dcd2" stroke-width="0.8" stroke-opacity="0.75"/>
<rect x="402.97" y="208.0" width="2.6" height="1.80" fill="#64dcd2"/>
<line x1="408.54" y1="199.8" x2="408.54" y2="209.4" stroke="#64dcd2" stroke-width="0.8" stroke-opacity="0.75"/>
<rect x="407.24" y="203.0" width="2.6" height="5.70" fill="#64dcd2"/>
<line x1="412.80" y1="199.8" x2="412.80" y2="212.8" stroke="#ff006e" stroke-width="0.8" stroke-opacity="0.75"/>
<rect x="411.50" y="202.6" width="2.6" height="9.10" fill="#ff006e"/>
<line x1="417.07" y1="202.1" x2="417.07" y2="215.5" stroke="#64dcd2" stroke-width="0.8" stroke-opacity="0.75"/>
<rect x="415.77" y="206.7" width="2.6" height="4.70" fill="#64dcd2"/>
<line x1="421.34" y1="206.0" x2="421.34" y2="216.6" stroke="#ff006e" stroke-width="0.8" stroke-opacity="0.75"/>
<rect x="420.04" y="206.7" width="2.6" height="3.70" fill="#ff006e"/>
<line x1="425.60" y1="128.0" x2="425.60" y2="213.5" stroke="#64dcd2" stroke-width="0.8" stroke-opacity="0.75"/>
<rect x="424.30" y="133.0" width="2.6" height="78.20" fill="#64dcd2"/>
<line x1="429.87" y1="112.0" x2="429.87" y2="145.0" stroke="#64dcd2" stroke-width="0.8" stroke-opacity="0.75"/>
<rect x="428.57" y="113.1" width="2.6" height="21.20" fill="#64dcd2"/>
<line x1="434.14" y1="96.0" x2="434.14" y2="121.7" stroke="#64dcd2" stroke-width="0.8" stroke-opacity="0.75"/>
<rect x="432.84" y="98.7" width="2.6" height="15.30" fill="#64dcd2"/>
<line x1="438.40" y1="85.0" x2="438.40" y2="105.3" stroke="#ff006e" stroke-width="0.8" stroke-opacity="0.75"/>
<rect x="437.10" y="98.7" width="2.6" height="5.80" fill="#ff006e"/>
<line x1="442.67" y1="100.8" x2="442.67" y2="116.2" stroke="#ff006e" stroke-width="0.8" stroke-opacity="0.75"/>
<rect x="441.37" y="103.9" width="2.6" height="1.90" fill="#ff006e"/>
<line x1="446.94" y1="101.2" x2="446.94" y2="114.4" stroke="#ff006e" stroke-width="0.8" stroke-opacity="0.75"/>
<rect x="445.64" y="105.8" width="2.6" height="8.20" fill="#ff006e"/>
<line x1="451.20" y1="92.6" x2="451.20" y2="119.2" stroke="#64dcd2" stroke-width="0.8" stroke-opacity="0.75"/>
<rect x="449.90" y="93.0" width="2.6" height="21.00" fill="#64dcd2"/>
<line x1="455.47" y1="83.7" x2="455.47" y2="113.1" stroke="#ff006e" stroke-width="0.8" stroke-opacity="0.75"/>
<rect x="454.17" y="93.0" width="2.6" height="12.80" fill="#ff006e"/>
<line x1="459.74" y1="97.3" x2="459.74" y2="107.6" stroke="#64dcd2" stroke-width="0.8" stroke-opacity="0.75"/>
<rect x="458.44" y="98.7" width="2.6" height="7.90" fill="#64dcd2"/>
<line x1="464.00" y1="92.6" x2="464.00" y2="98.7" stroke="#64dcd2" stroke-width="0.8" stroke-opacity="0.75"/>
<rect x="462.70" y="96.7" width="2.6" height="1.30" fill="#64dcd2"/>
<line x1="468.27" y1="96.0" x2="468.27" y2="100.4" stroke="#ff006e" stroke-width="0.8" stroke-opacity="0.75"/>
<rect x="466.97" y="96.7" width="2.6" height="3.40" fill="#ff006e"/>
<line x1="472.54" y1="97.0" x2="472.54" y2="102.5" stroke="#64dcd2" stroke-width="0.8" stroke-opacity="0.75"/>
<rect x="471.24" y="98.7" width="2.6" height="1.20" fill="#64dcd2"/>
<line x1="476.80" y1="89.8" x2="476.80" y2="100.1" stroke="#64dcd2" stroke-width="0.8" stroke-opacity="0.75"/>
<rect x="475.50" y="90.2" width="2.6" height="8.80" fill="#64dcd2"/>
<line x1="481.07" y1="89.8" x2="481.07" y2="93.2" stroke="#ff006e" stroke-width="0.8" stroke-opacity="0.75"/>
<rect x="479.77" y="90.2" width="2.6" height="2.80" fill="#ff006e"/>
<line x1="485.34" y1="91.6" x2="485.34" y2="94.3" stroke="#ff006e" stroke-width="0.8" stroke-opacity="0.75"/>
<rect x="484.04" y="91.9" width="2.6" height="2.00" fill="#ff006e"/>
<line x1="489.60" y1="87.1" x2="489.60" y2="94.9" stroke="#64dcd2" stroke-width="0.8" stroke-opacity="0.75"/>
<rect x="488.30" y="89.8" width="2.6" height="4.50" fill="#64dcd2"/>
<line x1="493.87" y1="85.3" x2="493.87" y2="92.6" stroke="#64dcd2" stroke-width="0.8" stroke-opacity="0.75"/>
<rect x="492.57" y="87.1" width="2.6" height="3.10" fill="#64dcd2"/>
<line x1="498.14" y1="86.4" x2="498.14" y2="96.0" stroke="#ff006e" stroke-width="0.8" stroke-opacity="0.75"/>
<rect x="496.84" y="87.1" width="2.6" height="7.80" fill="#ff006e"/>
<line x1="502.40" y1="80.3" x2="502.40" y2="95.3" stroke="#64dcd2" stroke-width="0.8" stroke-opacity="0.75"/>
<rect x="501.10" y="80.9" width="2.6" height="13.70" fill="#64dcd2"/>
<line x1="506.67" y1="80.3" x2="506.67" y2="95.7" stroke="#ff006e" stroke-width="0.8" stroke-opacity="0.75"/>
<rect x="505.37" y="81.6" width="2.6" height="12.70" fill="#ff006e"/>
<line x1="510.94" y1="83.0" x2="510.94" y2="93.9" stroke="#64dcd2" stroke-width="0.8" stroke-opacity="0.75"/>
<rect x="509.64" y="83.7" width="2.6" height="9.50" fill="#64dcd2"/>
<line x1="515.20" y1="78.5" x2="515.20" y2="89.1" stroke="#64dcd2" stroke-width="0.8" stroke-opacity="0.75"/>
<rect x="513.90" y="79.3" width="2.6" height="5.50" fill="#64dcd2"/>
<line x1="519.47" y1="75.5" x2="519.47" y2="83.7" stroke="#64dcd2" stroke-width="0.8" stroke-opacity="0.75"/>
<rect x="518.17" y="78.2" width="2.6" height="1.20" fill="#64dcd2"/>
<line x1="523.74" y1="71.0" x2="523.74" y2="97.0" stroke="#ff006e" stroke-width="0.8" stroke-opacity="0.75"/>
<rect x="522.44" y="77.8" width="2.6" height="11.60" fill="#ff006e"/>
<line x1="528.00" y1="73.0" x2="528.00" y2="97.6" stroke="#64dcd2" stroke-width="0.8" stroke-opacity="0.75"/>
<rect x="526.70" y="86.0" width="2.6" height="3.40" fill="#64dcd2"/>
<line x1="532.27" y1="70.7" x2="532.27" y2="90.1" stroke="#64dcd2" stroke-width="0.8" stroke-opacity="0.75"/>
<rect x="530.97" y="73.7" width="2.6" height="15.70" fill="#64dcd2"/>
<line x1="536.54" y1="68.9" x2="536.54" y2="95.6" stroke="#ff006e" stroke-width="0.8" stroke-opacity="0.75"/>
<rect x="535.24" y="73.7" width="2.6" height="9.30" fill="#ff006e"/>
<line x1="540.80" y1="72.3" x2="540.80" y2="84.6" stroke="#64dcd2" stroke-width="0.8" stroke-opacity="0.75"/>
<rect x="539.50" y="81.2" width="2.6" height="1.80" fill="#64dcd2"/>
<line x1="545.07" y1="67.6" x2="545.07" y2="86.0" stroke="#64dcd2" stroke-width="0.8" stroke-opacity="0.75"/>
<rect x="543.77" y="68.5" width="2.6" height="13.70" fill="#64dcd2"/>
<line x1="549.34" y1="58.7" x2="549.34" y2="77.1" stroke="#64dcd2" stroke-width="0.8" stroke-opacity="0.75"/>
<rect x="548.04" y="62.5" width="2.6" height="6.80" fill="#64dcd2"/>
<line x1="553.60" y1="58.0" x2="553.60" y2="76.7" stroke="#ff006e" stroke-width="0.8" stroke-opacity="0.75"/>
<rect x="552.30" y="62.1" width="2.6" height="7.80" fill="#ff006e"/>
<line x1="557.87" y1="69.3" x2="557.87" y2="79.9" stroke="#ff006e" stroke-width="0.8" stroke-opacity="0.75"/>
<rect x="556.57" y="69.9" width="2.6" height="5.20" fill="#ff006e"/>
<line x1="562.14" y1="72.3" x2="562.14" y2="76.4" stroke="#64dcd2" stroke-width="0.8" stroke-opacity="0.75"/>
<rect x="560.84" y="73.0" width="2.6" height="2.80" fill="#64dcd2"/>
<line x1="566.40" y1="67.6" x2="566.40" y2="74.4" stroke="#64dcd2" stroke-width="0.8" stroke-opacity="0.75"/>
<rect x="565.10" y="70.7" width="2.6" height="3.30" fill="#64dcd2"/>
<line x1="570.67" y1="70.3" x2="570.67" y2="82.2" stroke="#ff006e" stroke-width="0.8" stroke-opacity="0.75"/>
<rect x="569.37" y="70.7" width="2.6" height="10.90" fill="#ff006e"/>
<line x1="574.94" y1="80.3" x2="574.94" y2="86.7" stroke="#ff006e" stroke-width="0.8" stroke-opacity="0.75"/>
<rect x="573.64" y="80.8" width="2.6" height="1.80" fill="#ff006e"/>
<line x1="579.20" y1="78.5" x2="579.20" y2="84.0" stroke="#ff006e" stroke-width="0.8" stroke-opacity="0.75"/>
<rect x="577.90" y="81.6" width="2.6" height="2.00" fill="#ff006e"/>
<line x1="583.47" y1="75.8" x2="583.47" y2="83.6" stroke="#64dcd2" stroke-width="0.8" stroke-opacity="0.75"/>
<rect x="582.17" y="76.7" width="2.6" height="6.30" fill="#64dcd2"/>
<line x1="587.74" y1="72.3" x2="587.74" y2="78.5" stroke="#64dcd2" stroke-width="0.8" stroke-opacity="0.75"/>
<rect x="586.44" y="74.4" width="2.6" height="3.40" fill="#64dcd2"/>
<line x1="592.00" y1="68.9" x2="592.00" y2="75.8" stroke="#64dcd2" stroke-width="0.8" stroke-opacity="0.75"/>
<rect x="590.70" y="69.6" width="2.6" height="5.80" fill="#64dcd2"/>
<line x1="596.27" y1="69.0" x2="596.27" y2="74.4" stroke="#ff006e" stroke-width="0.8" stroke-opacity="0.75"/>
<rect x="594.97" y="69.3" width="2.6" height="2.00" fill="#ff006e"/>
<line x1="600.54" y1="65.8" x2="600.54" y2="74.4" stroke="#64dcd2" stroke-width="0.8" stroke-opacity="0.75"/>
<rect x="599.24" y="68.0" width="2.6" height="4.10" fill="#64dcd2"/>
<line x1="604.80" y1="63.5" x2="604.80" y2="74.4" stroke="#ff006e" stroke-width="0.8" stroke-opacity="0.75"/>
<rect x="603.50" y="68.0" width="2.6" height="6.00" fill="#ff006e"/>
<line x1="609.07" y1="66.6" x2="609.07" y2="73.7" stroke="#64dcd2" stroke-width="0.8" stroke-opacity="0.75"/>
<rect x="607.77" y="71.7" width="2.6" height="1.30" fill="#64dcd2"/>
<line x1="613.34" y1="67.6" x2="613.34" y2="73.7" stroke="#64dcd2" stroke-width="0.8" stroke-opacity="0.75"/>
<rect x="612.04" y="68.0" width="2.6" height="5.00" fill="#64dcd2"/>
<line x1="617.60" y1="65.5" x2="617.60" y2="91.5" stroke="#ff006e" stroke-width="0.8" stroke-opacity="0.75"/>
<rect x="616.30" y="68.0" width="2.6" height="18.70" fill="#ff006e"/>
<line x1="621.87" y1="74.0" x2="621.87" y2="88.0" stroke="#64dcd2" stroke-width="0.8" stroke-opacity="0.75"/>
<rect x="620.57" y="74.8" width="2.6" height="11.20" fill="#64dcd2"/>
<line x1="626.14" y1="60.7" x2="626.14" y2="91.5" stroke="#64dcd2" stroke-width="0.8" stroke-opacity="0.75"/>
<rect x="624.84" y="61.7" width="2.6" height="12.70" fill="#64dcd2"/>
<line x1="630.40" y1="60.7" x2="630.40" y2="90.8" stroke="#ff006e" stroke-width="0.8" stroke-opacity="0.75"/>
<rect x="629.10" y="61.7" width="2.6" height="22.90" fill="#ff006e"/>
<line x1="634.67" y1="81.9" x2="634.67" y2="103.1" stroke="#ff006e" stroke-width="0.8" stroke-opacity="0.75"/>
<rect x="633.37" y="84.6" width="2.6" height="13.40" fill="#ff006e"/>
<line x1="638.94" y1="84.0" x2="638.94" y2="99.0" stroke="#64dcd2" stroke-width="0.8" stroke-opacity="0.75"/>
<rect x="637.64" y="88.1" width="2.6" height="9.90" fill="#64dcd2"/>
<line x1="643.21" y1="84.6" x2="643.21" y2="101.3" stroke="#ff006e" stroke-width="0.8" stroke-opacity="0.75"/>
<rect x="641.91" y="88.8" width="2.6" height="9.20" fill="#ff006e"/>
<line x1="647.47" y1="91.2" x2="647.47" y2="104.5" stroke="#64dcd2" stroke-width="0.8" stroke-opacity="0.75"/>
<rect x="646.17" y="92.6" width="2.6" height="5.40" fill="#64dcd2"/>
<line x1="651.74" y1="74.4" x2="651.74" y2="96.3" stroke="#64dcd2" stroke-width="0.8" stroke-opacity="0.75"/>
<rect x="650.44" y="76.7" width="2.6" height="16.20" fill="#64dcd2"/>
<line x1="656.01" y1="66.2" x2="656.01" y2="78.5" stroke="#64dcd2" stroke-width="0.8" stroke-opacity="0.75"/>
<rect x="654.71" y="67.1" width="2.6" height="10.70" fill="#64dcd2"/>
<line x1="660.27" y1="68.0" x2="660.27" y2="75.4" stroke="#ff006e" stroke-width="0.8" stroke-opacity="0.75"/>
<rect x="658.97" y="68.2" width="2.6" height="6.90" fill="#ff006e"/>
<line x1="664.54" y1="70.3" x2="664.54" y2="75.4" stroke="#64dcd2" stroke-width="0.8" stroke-opacity="0.75"/>
<rect x="663.24" y="71.3" width="2.6" height="3.50" fill="#64dcd2"/>
<line x1="668.81" y1="69.3" x2="668.81" y2="74.4" stroke="#64dcd2" stroke-width="0.8" stroke-opacity="0.75"/>
<rect x="667.51" y="69.9" width="2.6" height="3.10" fill="#64dcd2"/>
<line x1="673.07" y1="66.9" x2="673.07" y2="73.0" stroke="#64dcd2" stroke-width="0.8" stroke-opacity="0.75"/>
<rect x="671.77" y="68.0" width="2.6" height="3.00" fill="#64dcd2"/>
<line x1="677.34" y1="64.8" x2="677.34" y2="69.3" stroke="#64dcd2" stroke-width="0.8" stroke-opacity="0.75"/>
<rect x="676.04" y="65.5" width="2.6" height="3.00" fill="#64dcd2"/>
<line x1="681.61" y1="65.2" x2="681.61" y2="68.5" stroke="#ff006e" stroke-width="0.8" stroke-opacity="0.75"/>
<rect x="680.31" y="65.5" width="2.6" height="2.70" fill="#ff006e"/>
<line x1="685.87" y1="67.6" x2="685.87" y2="72.3" stroke="#ff006e" stroke-width="0.8" stroke-opacity="0.75"/>
<rect x="684.57" y="68.0" width="2.6" height="3.70" fill="#ff006e"/>
<line x1="690.14" y1="69.6" x2="690.14" y2="72.3" stroke="#64dcd2" stroke-width="0.8" stroke-opacity="0.75"/>
<rect x="688.84" y="70.3" width="2.6" height="1.40" fill="#64dcd2"/>
<line x1="694.41" y1="69.3" x2="694.41" y2="75.4" stroke="#ff006e" stroke-width="0.8" stroke-opacity="0.75"/>
<rect x="693.11" y="70.3" width="2.6" height="2.70" fill="#ff006e"/>
<line x1="698.67" y1="55.9" x2="698.67" y2="74.4" stroke="#64dcd2" stroke-width="0.8" stroke-opacity="0.75"/>
<rect x="697.37" y="60.7" width="2.6" height="12.30" fill="#64dcd2"/>
<line x1="702.94" y1="56.2" x2="702.94" y2="65.2" stroke="#ff006e" stroke-width="0.8" stroke-opacity="0.75"/>
<rect x="701.64" y="60.7" width="2.6" height="1.40" fill="#ff006e"/>
<line x1="707.21" y1="53.2" x2="707.21" y2="62.8" stroke="#64dcd2" stroke-width="0.8" stroke-opacity="0.75"/>
<rect x="705.91" y="53.9" width="2.6" height="8.20" fill="#64dcd2"/>
<line x1="711.47" y1="53.5" x2="711.47" y2="62.1" stroke="#ff006e" stroke-width="0.8" stroke-opacity="0.75"/>
<rect x="710.17" y="53.9" width="2.6" height="4.80" fill="#ff006e"/>
<line x1="715.74" y1="52.9" x2="715.74" y2="59.8" stroke="#64dcd2" stroke-width="0.8" stroke-opacity="0.75"/>
<rect x="714.44" y="55.9" width="2.6" height="2.80" fill="#64dcd2"/>
<line x1="720.01" y1="43.7" x2="720.01" y2="57.3" stroke="#64dcd2" stroke-width="0.8" stroke-opacity="0.75"/>
<rect x="718.71" y="54.3" width="2.6" height="2.30" fill="#64dcd2"/>
<line x1="724.27" y1="51.0" x2="724.27" y2="90.1" stroke="#ff006e" stroke-width="0.8" stroke-opacity="0.75"/>
<rect x="722.97" y="54.3" width="2.6" height="24.20" fill="#ff006e"/>
<line x1="728.54" y1="74.0" x2="728.54" y2="89.0" stroke="#ff006e" stroke-width="0.8" stroke-opacity="0.75"/>
<rect x="727.24" y="78.5" width="2.6" height="5.50" fill="#ff006e"/>
<line x1="732.81" y1="79.2" x2="732.81" y2="92.9" stroke="#64dcd2" stroke-width="0.8" stroke-opacity="0.75"/>
<rect x="731.51" y="82.2" width="2.6" height="1.80" fill="#64dcd2"/>
<line x1="737.07" y1="75.1" x2="737.07" y2="86.0" stroke="#ff006e" stroke-width="0.8" stroke-opacity="0.75"/>
<rect x="735.77" y="81.6" width="2.6" height="1.20" fill="#ff006e"/>
<line x1="741.34" y1="69.3" x2="741.34" y2="87.4" stroke="#64dcd2" stroke-width="0.8" stroke-opacity="0.75"/>
<rect x="740.04" y="70.3" width="2.6" height="12.30" fill="#64dcd2"/>
<line x1="745.61" y1="69.6" x2="745.61" y2="79.9" stroke="#ff006e" stroke-width="0.8" stroke-opacity="0.75"/>
<rect x="744.31" y="70.3" width="2.6" height="4.80" fill="#ff006e"/>
<line x1="749.87" y1="70.3" x2="749.87" y2="86.0" stroke="#ff006e" stroke-width="0.8" stroke-opacity="0.75"/>
<rect x="748.57" y="74.0" width="2.6" height="3.10" fill="#ff006e"/>
<line x1="754.14" y1="75.8" x2="754.14" y2="83.3" stroke="#ff006e" stroke-width="0.8" stroke-opacity="0.75"/>
<rect x="752.84" y="76.7" width="2.6" height="5.90" fill="#ff006e"/>
<line x1="758.41" y1="77.1" x2="758.41" y2="84.0" stroke="#64dcd2" stroke-width="0.8" stroke-opacity="0.75"/>
<rect x="757.11" y="77.5" width="2.6" height="5.50" fill="#64dcd2"/>
<line x1="762.67" y1="75.4" x2="762.67" y2="79.2" stroke="#64dcd2" stroke-width="0.8" stroke-opacity="0.75"/>
<rect x="761.37" y="77.5" width="2.6" height="1.40" fill="#64dcd2"/>
<line x1="766.94" y1="77.1" x2="766.94" y2="82.6" stroke="#ff006e" stroke-width="0.8" stroke-opacity="0.75"/>
<rect x="765.64" y="77.8" width="2.6" height="3.40" fill="#ff006e"/>
<line x1="771.21" y1="75.1" x2="771.21" y2="81.6" stroke="#64dcd2" stroke-width="0.8" stroke-opacity="0.75"/>
<rect x="769.91" y="75.8" width="2.6" height="5.00" fill="#64dcd2"/>
<line x1="775.47" y1="75.8" x2="775.47" y2="81.2" stroke="#ff006e" stroke-width="0.8" stroke-opacity="0.75"/>
<rect x="774.17" y="76.2" width="2.6" height="4.60" fill="#ff006e"/>
<line x1="779.74" y1="78.8" x2="779.74" y2="80.8" stroke="#7040c8" stroke-width="0.8" stroke-opacity="0.75"/>
<rect x="778.44" y="79.3" width="2.6" height="1.20" fill="#7040c8"/>
<line x1="784.01" y1="78.2" x2="784.01" y2="84.4" stroke="#ff006e" stroke-width="0.8" stroke-opacity="0.75"/>
<rect x="782.71" y="79.3" width="2.6" height="4.40" fill="#ff006e"/>
<line x1="788.27" y1="81.7" x2="788.27" y2="85.8" stroke="#ff006e" stroke-width="0.8" stroke-opacity="0.75"/>
<rect x="786.97" y="82.6" width="2.6" height="1.40" fill="#ff006e"/>
<line x1="792.54" y1="80.3" x2="792.54" y2="85.8" stroke="#ff006e" stroke-width="0.8" stroke-opacity="0.75"/>
<rect x="791.24" y="83.0" width="2.6" height="1.40" fill="#ff006e"/>
<line x1="796.81" y1="78.2" x2="796.81" y2="84.4" stroke="#64dcd2" stroke-width="0.8" stroke-opacity="0.75"/>
<rect x="795.51" y="82.0" width="2.6" height="2.00" fill="#64dcd2"/>
<line x1="801.07" y1="71.4" x2="801.07" y2="82.4" stroke="#64dcd2" stroke-width="0.8" stroke-opacity="0.75"/>
<rect x="799.77" y="72.1" width="2.6" height="10.00" fill="#64dcd2"/>
<line x1="805.34" y1="68.0" x2="805.34" y2="76.9" stroke="#ff006e" stroke-width="0.8" stroke-opacity="0.75"/>
<rect x="804.04" y="72.1" width="2.6" height="2.00" fill="#ff006e"/>
<line x1="809.61" y1="72.5" x2="809.61" y2="78.0" stroke="#64dcd2" stroke-width="0.8" stroke-opacity="0.75"/>
<rect x="808.31" y="73.5" width="2.6" height="1.20" fill="#64dcd2"/>
<line x1="813.87" y1="73.5" x2="813.87" y2="88.5" stroke="#ff006e" stroke-width="0.8" stroke-opacity="0.75"/>
<rect x="812.57" y="73.9" width="2.6" height="11.20" fill="#ff006e"/>
<line x1="818.14" y1="78.5" x2="818.14" y2="86.4" stroke="#64dcd2" stroke-width="0.8" stroke-opacity="0.75"/>
<rect x="816.84" y="79.6" width="2.6" height="6.20" fill="#64dcd2"/>
<line x1="822.41" y1="61.2" x2="822.41" y2="85.8" stroke="#64dcd2" stroke-width="0.8" stroke-opacity="0.75"/>
<rect x="821.11" y="62.1" width="2.6" height="17.80" fill="#64dcd2"/>
<line x1="826.67" y1="54.2" x2="826.67" y2="70.6" stroke="#64dcd2" stroke-width="0.8" stroke-opacity="0.75"/>
<rect x="825.37" y="56.6" width="2.6" height="6.60" fill="#64dcd2"/>
<line x1="830.94" y1="51.7" x2="830.94" y2="61.7" stroke="#64dcd2" stroke-width="0.8" stroke-opacity="0.75"/>
<rect x="829.64" y="52.8" width="2.6" height="4.10" fill="#64dcd2"/>
<line x1="835.21" y1="49.4" x2="835.21" y2="56.6" stroke="#64dcd2" stroke-width="0.8" stroke-opacity="0.75"/>
<rect x="833.91" y="52.1" width="2.6" height="1.40" fill="#64dcd2"/>
<line x1="839.47" y1="33.0" x2="839.47" y2="53.5" stroke="#64dcd2" stroke-width="0.8" stroke-opacity="0.75"/>
<rect x="838.17" y="34.8" width="2.6" height="18.00" fill="#64dcd2"/>
<line x1="843.74" y1="23.0" x2="843.74" y2="40.5" stroke="#64dcd2" stroke-width="0.8" stroke-opacity="0.75"/>
<rect x="842.44" y="25.5" width="2.6" height="10.60" fill="#64dcd2"/>
<line x1="848.01" y1="16.5" x2="848.01" y2="37.8" stroke="#ff006e" stroke-width="0.8" stroke-opacity="0.75"/>
<rect x="846.71" y="25.5" width="2.6" height="6.50" fill="#ff006e"/>
<line x1="852.27" y1="32.0" x2="852.27" y2="37.8" stroke="#ff006e" stroke-width="0.8" stroke-opacity="0.75"/>
<rect x="850.97" y="32.0" width="2.6" height="1.20" fill="#ff006e"/>
<line x1="856.54" y1="28.2" x2="856.54" y2="36.4" stroke="#64dcd2" stroke-width="0.8" stroke-opacity="0.75"/>
<rect x="855.24" y="28.9" width="2.6" height="6.80" fill="#64dcd2"/>
<line x1="860.81" y1="27.5" x2="860.81" y2="32.3" stroke="#64dcd2" stroke-width="0.8" stroke-opacity="0.75"/>
<rect x="859.51" y="28.9" width="2.6" height="1.20" fill="#64dcd2"/>
<line x1="865.07" y1="28.2" x2="865.07" y2="31.2" stroke="#ff006e" stroke-width="0.8" stroke-opacity="0.75"/>
<rect x="863.77" y="29.8" width="2.6" height="1.20" fill="#ff006e"/>
<line x1="869.34" y1="28.5" x2="869.34" y2="32.6" stroke="#64dcd2" stroke-width="0.8" stroke-opacity="0.75"/>
<rect x="868.04" y="28.9" width="2.6" height="1.20" fill="#64dcd2"/>
<line x1="873.61" y1="27.5" x2="873.61" y2="31.6" stroke="#ff006e" stroke-width="0.8" stroke-opacity="0.75"/>
<rect x="872.31" y="28.9" width="2.6" height="1.80" fill="#ff006e"/>
<line x1="877.87" y1="29.6" x2="877.87" y2="32.3" stroke="#ff006e" stroke-width="0.8" stroke-opacity="0.75"/>
<rect x="876.57" y="29.8" width="2.6" height="2.20" fill="#ff006e"/>
<line x1="882.14" y1="29.6" x2="882.14" y2="32.9" stroke="#ff006e" stroke-width="0.8" stroke-opacity="0.75"/>
<rect x="880.84" y="30.8" width="2.6" height="1.70" fill="#ff006e"/>
<line x1="886.41" y1="31.0" x2="886.41" y2="35.8" stroke="#64dcd2" stroke-width="0.8" stroke-opacity="0.75"/>
<rect x="885.11" y="31.1" width="2.6" height="1.20" fill="#64dcd2"/>
<line x1="890.67" y1="30.8" x2="890.67" y2="41.3" stroke="#ff006e" stroke-width="0.8" stroke-opacity="0.75"/>
<rect x="889.37" y="31.1" width="2.6" height="9.80" fill="#ff006e"/>
<line x1="894.94" y1="33.8" x2="894.94" y2="40.9" stroke="#ff006e" stroke-width="0.8" stroke-opacity="0.75"/>
<rect x="893.64" y="38.2" width="2.6" height="1.70" fill="#ff006e"/>
<line x1="899.21" y1="38.2" x2="899.21" y2="46.4" stroke="#ff006e" stroke-width="0.8" stroke-opacity="0.75"/>
<rect x="897.91" y="41.1" width="2.6" height="4.90" fill="#ff006e"/>
<line x1="903.47" y1="38.8" x2="903.47" y2="47.0" stroke="#64dcd2" stroke-width="0.8" stroke-opacity="0.75"/>
<rect x="902.17" y="42.9" width="2.6" height="3.10" fill="#64dcd2"/>
<line x1="907.74" y1="41.1" x2="907.74" y2="47.5" stroke="#ff006e" stroke-width="0.8" stroke-opacity="0.75"/>
<rect x="906.44" y="42.9" width="2.6" height="2.90" fill="#ff006e"/>
<line x1="912.01" y1="38.2" x2="912.01" y2="45.8" stroke="#64dcd2" stroke-width="0.8" stroke-opacity="0.75"/>
<rect x="910.71" y="44.0" width="2.6" height="1.20" fill="#64dcd2"/>
<line x1="916.27" y1="40.2" x2="916.27" y2="50.7" stroke="#ff006e" stroke-width="0.8" stroke-opacity="0.75"/>
<rect x="914.97" y="43.2" width="2.6" height="5.50" fill="#ff006e"/>
<line x1="920.54" y1="40.9" x2="920.54" y2="59.8" stroke="#ff006e" stroke-width="0.8" stroke-opacity="0.75"/>
<rect x="919.24" y="48.1" width="2.6" height="5.30" fill="#ff006e"/>
<line x1="924.81" y1="47.5" x2="924.81" y2="59.8" stroke="#64dcd2" stroke-width="0.8" stroke-opacity="0.75"/>
<rect x="923.51" y="49.3" width="2.6" height="3.50" fill="#64dcd2"/>
<line x1="929.07" y1="46.0" x2="929.07" y2="59.8" stroke="#ff006e" stroke-width="0.8" stroke-opacity="0.75"/>
<rect x="927.77" y="49.3" width="2.6" height="3.70" fill="#ff006e"/>
<line x1="933.34" y1="46.0" x2="933.34" y2="55.2" stroke="#64dcd2" stroke-width="0.8" stroke-opacity="0.75"/>
<rect x="932.04" y="46.7" width="2.6" height="6.10" fill="#64dcd2"/>
<line x1="937.61" y1="44.8" x2="937.61" y2="57.5" stroke="#ff006e" stroke-width="0.8" stroke-opacity="0.75"/>
<rect x="936.31" y="47.2" width="2.6" height="3.90" fill="#ff006e"/>
<line x1="941.87" y1="47.5" x2="941.87" y2="57.5" stroke="#64dcd2" stroke-width="0.8" stroke-opacity="0.75"/>
<rect x="940.57" y="49.9" width="2.6" height="1.20" fill="#64dcd2"/>
<line x1="946.14" y1="44.8" x2="946.14" y2="57.5" stroke="#64dcd2" stroke-width="0.8" stroke-opacity="0.75"/>
<rect x="944.84" y="48.7" width="2.6" height="1.20" fill="#64dcd2"/>
<line x1="950.41" y1="47.5" x2="950.41" y2="56.3" stroke="#64dcd2" stroke-width="0.8" stroke-opacity="0.75"/>
<rect x="949.11" y="48.1" width="2.6" height="1.20" fill="#64dcd2"/>
<line x1="954.67" y1="49.3" x2="954.67" y2="55.2" stroke="#ff006e" stroke-width="0.8" stroke-opacity="0.75"/>
<rect x="953.37" y="49.9" width="2.6" height="2.90" fill="#ff006e"/>
<line x1="958.94" y1="48.1" x2="958.94" y2="53.4" stroke="#64dcd2" stroke-width="0.8" stroke-opacity="0.75"/>
<rect x="957.64" y="48.7" width="2.6" height="4.10" fill="#64dcd2"/>
<line x1="963.21" y1="44.0" x2="963.21" y2="49.9" stroke="#64dcd2" stroke-width="0.8" stroke-opacity="0.75"/>
<rect x="961.91" y="46.4" width="2.6" height="2.90" fill="#64dcd2"/>
<line x1="967.47" y1="40.2" x2="967.47" y2="46.0" stroke="#64dcd2" stroke-width="0.8" stroke-opacity="0.75"/>
<rect x="966.17" y="40.9" width="2.6" height="4.90" fill="#64dcd2"/>
<line x1="971.74" y1="41.1" x2="971.74" y2="45.5" stroke="#ff006e" stroke-width="0.8" stroke-opacity="0.75"/>
<rect x="970.44" y="41.3" width="2.6" height="3.90" fill="#ff006e"/>
<line x1="976.01" y1="42.3" x2="976.01" y2="45.5" stroke="#64dcd2" stroke-width="0.8" stroke-opacity="0.75"/>
<rect x="974.71" y="42.9" width="2.6" height="2.30" fill="#64dcd2"/>
<line x1="980.27" y1="40.2" x2="980.27" y2="46.4" stroke="#ff006e" stroke-width="0.8" stroke-opacity="0.75"/>
<rect x="978.97" y="41.7" width="2.6" height="4.30" fill="#ff006e"/>
<line x1="984.54" y1="44.4" x2="984.54" y2="49.1" stroke="#ff006e" stroke-width="0.8" stroke-opacity="0.75"/>
<rect x="983.24" y="44.8" width="2.6" height="2.70" fill="#ff006e"/>
</g>
<polyline fill="none" stroke="#64dcd2" stroke-width="1.35" stroke-linejoin="round" stroke-opacity="0.82" points="3.20,355.40 7.47,354.20 11.73,349.80 16.00,351.70 20.27,350.50 24.53,348.80 28.80,347.30 33.07,347.30 37.33,343.90 41.60,355.40 45.87,361.00 50.13,364.00 54.40,361.50 58.67,362.00 62.93,357.10 67.20,357.80 71.47,358.30 75.73,357.80 80.00,356.60 84.27,356.60 88.53,357.10 92.80,356.10 97.07,357.10 101.33,354.20 105.60,355.40 109.87,353.00 114.13,352.20 118.40,347.30 122.67,354.20 126.93,351.70 131.20,348.80 135.47,357.80 139.73,361.00 144.00,358.60 148.27,357.80 152.53,365.20 156.80,368.30 161.07,368.30 165.33,365.20 169.60,366.40 173.87,366.40 178.13,364.40 182.40,364.40 186.67,363.50 190.93,362.00 195.20,362.00 199.47,361.00 203.73,357.80 208.00,359.60 212.27,359.10 216.53,362.00 220.80,362.00 225.07,356.60 229.34,353.00 233.60,356.60 237.87,357.50 242.14,353.00 246.40,345.60 250.67,344.40 254.94,343.90 259.20,341.50 263.47,346.40 267.74,346.40 272.00,348.10 276.27,348.60 280.54,350.50 284.80,351.70 289.07,351.70 293.34,351.70 297.60,349.80 301.87,349.30 306.14,347.30 310.40,344.40 314.67,344.40 318.94,346.40 323.20,349.30 327.47,351.70 331.74,349.80 336.00,348.10 340.27,342.50 344.54,345.60 348.80,347.30 353.07,347.60 357.34,348.10 361.60,348.10 365.87,348.10 370.14,348.80 374.40,349.30 378.67,349.30 382.94,348.80 387.20,349.30 391.47,350.50 395.74,350.50 400.00,348.10 404.27,347.30 408.54,344.90 412.80,351.20 417.07,349.30 421.34,351.70 425.60,335.90 429.87,334.60 434.14,333.40 438.40,335.10 442.67,335.90 446.94,338.30 451.20,337.10 455.47,340.80 459.74,340.80 464.00,340.00 468.27,340.80 472.54,340.80 476.80,340.00 481.07,340.80 485.34,340.80 489.60,340.80 493.87,340.00 498.14,343.20 502.40,341.50 506.67,345.10 510.94,344.40 515.20,343.20 519.47,343.20 523.74,347.30 528.00,347.30 532.27,344.40 536.54,347.60 540.80,347.60 545.07,344.40 549.34,343.90 553.60,346.40 557.87,348.60 562.14,348.10 566.40,348.10 570.67,351.70 574.94,352.20 579.20,352.20 583.47,351.20 587.74,350.50 592.00,348.80 596.27,348.80 600.54,348.10 604.80,350.50 609.07,350.50 613.34,349.30 617.60,357.80 621.87,353.70 626.14,349.80 630.40,357.80 634.67,361.00 638.94,358.30 643.21,360.80 647.47,359.10 651.74,354.20 656.01,351.70 660.27,353.40 664.54,353.40 668.81,352.50 673.07,352.20 677.34,351.70 681.61,351.70 685.87,353.70 690.14,353.70 694.41,354.20 698.67,350.50 702.94,350.50 707.21,348.10 711.47,349.80 715.74,349.80 720.01,348.80 724.27,357.80 728.54,361.00 732.81,360.30 737.07,360.30 741.34,355.40 745.61,357.10 749.87,357.80 754.14,359.60 758.41,357.80 762.67,358.60 766.94,359.10 771.21,357.10 775.47,358.30 779.74,358.60 784.01,359.80 788.27,359.80 792.54,359.80 796.81,359.10 801.07,353.40 805.34,354.20 809.61,354.20 813.87,360.30 818.14,357.80 822.41,349.30 826.67,346.90 830.94,345.60 835.21,345.60 839.47,341.50 843.74,339.50 848.01,342.70 852.27,342.70 856.54,342.70 860.81,342.50 865.07,342.50 869.34,342.70 873.61,343.20 877.87,344.40 882.14,344.40 886.41,344.40 890.67,351.20 894.94,351.20 899.21,355.40 903.47,353.90 907.74,355.20 912.01,354.40 916.27,357.80 920.54,360.50 924.81,358.50 929.07,360.50 933.34,356.20 937.61,358.50 941.87,358.30 946.14,356.90 950.41,356.60 954.67,359.50 958.94,356.60 963.21,353.40 967.47,351.70 971.74,353.60 976.01,353.20 980.27,355.60 984.54,356.40"/>
<g stroke="#80808f" stroke-width="0.8">
<line x1="3.20" y1="441.2" x2="3.20" y2="436.92"/>
<line x1="7.47" y1="441.2" x2="7.47" y2="437.06"/>
<line x1="11.73" y1="441.2" x2="11.73" y2="436.11"/>
<line x1="16.00" y1="441.2" x2="16.00" y2="435.97"/>
<line x1="20.27" y1="441.2" x2="20.27" y2="435.60"/>
<line x1="24.53" y1="441.2" x2="24.53" y2="435.03"/>
<line x1="28.80" y1="441.2" x2="28.80" y2="434.31"/>
<line x1="33.07" y1="441.2" x2="33.07" y2="433.71"/>
<line x1="37.33" y1="441.2" x2="37.33" y2="432.32"/>
<line x1="41.60" y1="441.2" x2="41.60" y2="433.61"/>
<line x1="45.87" y1="441.2" x2="45.87" y2="436.16"/>
<line x1="50.13" y1="441.2" x2="50.13" y2="439.00"/>
<line x1="54.40" y1="441.2" x2="54.40" y2="440.59"/>
<line x1="58.67" y1="441.2" x2="58.67" y2="442.43"/>
<line x1="62.93" y1="441.2" x2="62.93" y2="442.30"/>
<line x1="67.20" y1="441.2" x2="67.20" y2="442.45"/>
<line x1="71.47" y1="441.2" x2="71.47" y2="442.76"/>
<line x1="75.73" y1="441.2" x2="75.73" y2="442.87"/>
<line x1="80.00" y1="441.2" x2="80.00" y2="442.38"/>
<line x1="84.27" y1="441.2" x2="84.27" y2="442.24"/>
<line x1="88.53" y1="441.2" x2="88.53" y2="442.42"/>
<line x1="92.80" y1="441.2" x2="92.80" y2="442.11"/>
<line x1="97.07" y1="441.2" x2="97.07" y2="442.17"/>
<line x1="101.33" y1="441.2" x2="101.33" y2="441.48"/>
<line x1="105.60" y1="441.2" x2="105.60" y2="441.32"/>
<line x1="109.87" y1="441.2" x2="109.87" y2="440.54"/>
<line x1="114.13" y1="441.2" x2="114.13" y2="439.83"/>
<line x1="118.40" y1="441.2" x2="118.40" y2="437.81"/>
<line x1="122.67" y1="441.2" x2="122.67" y2="437.89"/>
<line x1="126.93" y1="441.2" x2="126.93" y2="437.33"/>
<line x1="131.20" y1="441.2" x2="131.20" y2="435.71"/>
<line x1="135.47" y1="441.2" x2="135.47" y2="437.32"/>
<line x1="139.73" y1="441.2" x2="139.73" y2="439.74"/>
<line x1="144.00" y1="441.2" x2="144.00" y2="440.69"/>
<line x1="148.27" y1="441.2" x2="148.27" y2="441.09"/>
<line x1="152.53" y1="441.2" x2="152.53" y2="444.68"/>
<line x1="156.80" y1="441.2" x2="156.80" y2="449.71"/>
<line x1="161.07" y1="441.2" x2="161.07" y2="453.37"/>
<line x1="165.33" y1="441.2" x2="165.33" y2="455.25"/>
<line x1="169.60" y1="441.2" x2="169.60" y2="457.45"/>
<line x1="173.87" y1="441.2" x2="173.87" y2="459.02"/>
<line x1="178.13" y1="441.2" x2="178.13" y2="459.53"/>
<line x1="182.40" y1="441.2" x2="182.40" y2="459.48"/>
<line x1="186.67" y1="441.2" x2="186.67" y2="459.07"/>
<line x1="190.93" y1="441.2" x2="190.93" y2="458.17"/>
<line x1="195.20" y1="441.2" x2="195.20" y2="457.19"/>
<line x1="199.47" y1="441.2" x2="199.47" y2="456.01"/>
<line x1="203.73" y1="441.2" x2="203.73" y2="454.14"/>
<line x1="208.00" y1="441.2" x2="208.00" y2="453.15"/>
<line x1="212.27" y1="441.2" x2="212.27" y2="452.08"/>
<line x1="216.53" y1="441.2" x2="216.53" y2="452.08"/>
<line x1="220.80" y1="441.2" x2="220.80" y2="451.77"/>
<line x1="225.07" y1="441.2" x2="225.07" y2="450.36"/>
<line x1="229.34" y1="441.2" x2="229.34" y2="448.04"/>
<line x1="233.60" y1="441.2" x2="233.60" y2="447.30"/>
<line x1="237.87" y1="441.2" x2="237.87" y2="447.22"/>
<line x1="242.14" y1="441.2" x2="242.14" y2="445.30"/>
<line x1="246.40" y1="441.2" x2="246.40" y2="440.34"/>
<line x1="250.67" y1="441.2" x2="250.67" y2="435.81"/>
<line x1="254.94" y1="441.2" x2="254.94" y2="432.20"/>
<line x1="259.20" y1="441.2" x2="259.20" y2="427.50"/>
<line x1="263.47" y1="441.2" x2="263.47" y2="425.77"/>
<line x1="267.74" y1="441.2" x2="267.74" y2="424.30"/>
<line x1="272.00" y1="441.2" x2="272.00" y2="424.00"/>
<line x1="276.27" y1="441.2" x2="276.27" y2="423.63"/>
<line x1="280.54" y1="441.2" x2="280.54" y2="424.26"/>
<line x1="284.80" y1="441.2" x2="284.80" y2="425.45"/>
<line x1="289.07" y1="441.2" x2="289.07" y2="426.68"/>
<line x1="293.34" y1="441.2" x2="293.34" y2="427.61"/>
<line x1="297.60" y1="441.2" x2="297.60" y2="427.68"/>
<line x1="301.87" y1="441.2" x2="301.87" y2="427.70"/>
<line x1="306.14" y1="441.2" x2="306.14" y2="427.30"/>
<line x1="310.40" y1="441.2" x2="310.40" y2="425.99"/>
<line x1="314.67" y1="441.2" x2="314.67" y2="424.71"/>
<line x1="318.94" y1="441.2" x2="318.94" y2="424.39"/>
<line x1="323.20" y1="441.2" x2="323.20" y2="425.00"/>
<line x1="327.47" y1="441.2" x2="327.47" y2="426.38"/>
<line x1="331.74" y1="441.2" x2="331.74" y2="426.86"/>
<line x1="336.00" y1="441.2" x2="336.00" y2="426.59"/>
<line x1="340.27" y1="441.2" x2="340.27" y2="423.81"/>
<line x1="344.54" y1="441.2" x2="344.54" y2="422.97"/>
<line x1="348.80" y1="441.2" x2="348.80" y2="422.98"/>
<line x1="353.07" y1="441.2" x2="353.07" y2="422.98"/>
<line x1="357.34" y1="441.2" x2="357.34" y2="423.40"/>
<line x1="361.60" y1="441.2" x2="361.60" y2="423.52"/>
<line x1="365.87" y1="441.2" x2="365.87" y2="424.12"/>
<line x1="370.14" y1="441.2" x2="370.14" y2="424.98"/>
<line x1="374.40" y1="441.2" x2="374.40" y2="425.85"/>
<line x1="378.67" y1="441.2" x2="378.67" y2="426.76"/>
<line x1="382.94" y1="441.2" x2="382.94" y2="427.33"/>
<line x1="387.20" y1="441.2" x2="387.20" y2="428.09"/>
<line x1="391.47" y1="441.2" x2="391.47" y2="429.09"/>
<line x1="395.74" y1="441.2" x2="395.74" y2="429.88"/>
<line x1="400.00" y1="441.2" x2="400.00" y2="430.04"/>
<line x1="404.27" y1="441.2" x2="404.27" y2="430.19"/>
<line x1="408.54" y1="441.2" x2="408.54" y2="429.86"/>
<line x1="412.80" y1="441.2" x2="412.80" y2="430.72"/>
<line x1="417.07" y1="441.2" x2="417.07" y2="430.94"/>
<line x1="421.34" y1="441.2" x2="421.34" y2="431.65"/>
<line x1="425.60" y1="441.2" x2="425.60" y2="423.60"/>
<line x1="429.87" y1="441.2" x2="429.87" y2="415.25"/>
<line x1="434.14" y1="441.2" x2="434.14" y2="407.38"/>
<line x1="438.40" y1="441.2" x2="438.40" y2="402.26"/>
<line x1="442.67" y1="441.2" x2="442.67" y2="398.83"/>
<line x1="446.94" y1="441.2" x2="446.94" y2="397.56"/>
<line x1="451.20" y1="441.2" x2="451.20" y2="394.69"/>
<line x1="455.47" y1="441.2" x2="455.47" y2="394.41"/>
<line x1="459.74" y1="441.2" x2="459.74" y2="393.93"/>
<line x1="464.00" y1="441.2" x2="464.00" y2="393.86"/>
<line x1="468.27" y1="441.2" x2="468.27" y2="394.74"/>
<line x1="472.54" y1="441.2" x2="472.54" y2="395.79"/>
<line x1="476.80" y1="441.2" x2="476.80" y2="396.18"/>
<line x1="481.07" y1="441.2" x2="481.07" y2="397.31"/>
<line x1="485.34" y1="441.2" x2="485.34" y2="398.80"/>
<line x1="489.60" y1="441.2" x2="489.60" y2="399.98"/>
<line x1="493.87" y1="441.2" x2="493.87" y2="401.08"/>
<line x1="498.14" y1="441.2" x2="498.14" y2="403.27"/>
<line x1="502.40" y1="441.2" x2="502.40" y2="403.85"/>
<line x1="506.67" y1="441.2" x2="506.67" y2="406.23"/>
<line x1="510.94" y1="441.2" x2="510.94" y2="407.31"/>
<line x1="515.20" y1="441.2" x2="515.20" y2="408.04"/>
<line x1="519.47" y1="441.2" x2="519.47" y2="408.87"/>
<line x1="523.74" y1="441.2" x2="523.74" y2="411.14"/>
<line x1="528.00" y1="441.2" x2="528.00" y2="412.89"/>
<line x1="532.27" y1="441.2" x2="532.27" y2="413.19"/>
<line x1="536.54" y1="441.2" x2="536.54" y2="414.80"/>
<line x1="540.80" y1="441.2" x2="540.80" y2="416.15"/>
<line x1="545.07" y1="441.2" x2="545.07" y2="416.07"/>
<line x1="549.34" y1="441.2" x2="549.34" y2="415.61"/>
<line x1="553.60" y1="441.2" x2="553.60" y2="416.38"/>
<line x1="557.87" y1="441.2" x2="557.87" y2="417.85"/>
<line x1="562.14" y1="441.2" x2="562.14" y2="419.04"/>
<line x1="566.40" y1="441.2" x2="566.40" y2="419.96"/>
<line x1="570.67" y1="441.2" x2="570.67" y2="422.15"/>
<line x1="574.94" y1="441.2" x2="574.94" y2="424.19"/>
<line x1="579.20" y1="441.2" x2="579.20" y2="426.10"/>
<line x1="583.47" y1="441.2" x2="583.47" y2="426.99"/>
<line x1="587.74" y1="441.2" x2="587.74" y2="427.59"/>
<line x1="592.00" y1="441.2" x2="592.00" y2="427.68"/>
<line x1="596.27" y1="441.2" x2="596.27" y2="428.09"/>
<line x1="600.54" y1="441.2" x2="600.54" y2="428.19"/>
<line x1="604.80" y1="441.2" x2="604.80" y2="429.09"/>
<line x1="609.07" y1="441.2" x2="609.07" y2="429.68"/>
<line x1="613.34" y1="441.2" x2="613.34" y2="429.85"/>
<line x1="617.60" y1="441.2" x2="617.60" y2="432.23"/>
<line x1="621.87" y1="441.2" x2="621.87" y2="432.85"/>
<line x1="626.14" y1="441.2" x2="626.14" y2="431.95"/>
<line x1="630.40" y1="441.2" x2="630.40" y2="433.94"/>
<line x1="634.67" y1="441.2" x2="634.67" y2="437.08"/>
<line x1="638.94" y1="441.2" x2="638.94" y2="438.48"/>
<line x1="643.21" y1="441.2" x2="643.21" y2="440.72"/>
<line x1="647.47" y1="441.2" x2="647.47" y2="441.87"/>
<line x1="651.74" y1="441.2" x2="651.74" y2="440.98"/>
<line x1="656.01" y1="441.2" x2="656.01" y2="439.20"/>
<line x1="660.27" y1="441.2" x2="660.27" y2="438.73"/>
<line x1="664.54" y1="441.2" x2="664.54" y2="437.96"/>
<line x1="668.81" y1="441.2" x2="668.81" y2="437.23"/>
<line x1="673.07" y1="441.2" x2="673.07" y2="436.50"/>
<line x1="677.34" y1="441.2" x2="677.34" y2="435.69"/>
<line x1="681.61" y1="441.2" x2="681.61" y2="435.43"/>
<line x1="685.87" y1="441.2" x2="685.87" y2="435.69"/>
<line x1="690.14" y1="441.2" x2="690.14" y2="435.79"/>
<line x1="694.41" y1="441.2" x2="694.41" y2="436.24"/>
<line x1="698.67" y1="441.2" x2="698.67" y2="435.26"/>
<line x1="702.94" y1="441.2" x2="702.94" y2="434.72"/>
<line x1="707.21" y1="441.2" x2="707.21" y2="433.44"/>
<line x1="711.47" y1="441.2" x2="711.47" y2="433.07"/>
<line x1="715.74" y1="441.2" x2="715.74" y2="432.56"/>
<line x1="720.01" y1="441.2" x2="720.01" y2="432.08"/>
<line x1="724.27" y1="441.2" x2="724.27" y2="434.53"/>
<line x1="728.54" y1="441.2" x2="728.54" y2="437.15"/>
<line x1="732.81" y1="441.2" x2="732.81" y2="439.04"/>
<line x1="737.07" y1="441.2" x2="737.07" y2="440.59"/>
<line x1="741.34" y1="441.2" x2="741.34" y2="440.43"/>
<line x1="745.61" y1="441.2" x2="745.61" y2="440.85"/>
<line x1="749.87" y1="441.2" x2="749.87" y2="441.41"/>
<line x1="754.14" y1="441.2" x2="754.14" y2="442.47"/>
<line x1="758.41" y1="441.2" x2="758.41" y2="442.71"/>
<line x1="762.67" y1="441.2" x2="762.67" y2="442.88"/>
<line x1="766.94" y1="441.2" x2="766.94" y2="443.41"/>
<line x1="771.21" y1="441.2" x2="771.21" y2="443.19"/>
<line x1="775.47" y1="441.2" x2="775.47" y2="443.56"/>
<line x1="779.74" y1="441.2" x2="779.74" y2="443.77"/>
<line x1="784.01" y1="441.2" x2="784.01" y2="444.28"/>
<line x1="788.27" y1="441.2" x2="788.27" y2="444.69"/>
<line x1="792.54" y1="441.2" x2="792.54" y2="445.01"/>
<line x1="796.81" y1="441.2" x2="796.81" y2="444.94"/>
<line x1="801.07" y1="441.2" x2="801.07" y2="443.74"/>
<line x1="805.34" y1="441.2" x2="805.34" y2="442.99"/>
<line x1="809.61" y1="441.2" x2="809.61" y2="442.31"/>
<line x1="813.87" y1="441.2" x2="813.87" y2="443.08"/>
<line x1="818.14" y1="441.2" x2="818.14" y2="443.04"/>
<line x1="822.41" y1="441.2" x2="822.41" y2="441.01"/>
<line x1="826.67" y1="441.2" x2="826.67" y2="438.81"/>
<line x1="830.94" y1="441.2" x2="830.94" y2="436.68"/>
<line x1="835.21" y1="441.2" x2="835.21" y2="434.99"/>
<line x1="839.47" y1="441.2" x2="839.47" y2="431.78"/>
<line x1="843.74" y1="441.2" x2="843.74" y2="428.33"/>
<line x1="848.01" y1="441.2" x2="848.01" y2="426.51"/>
<line x1="852.27" y1="441.2" x2="852.27" y2="425.36"/>
<line x1="856.54" y1="441.2" x2="856.54" y2="424.18"/>
<line x1="860.81" y1="441.2" x2="860.81" y2="423.44"/>
<line x1="865.07" y1="441.2" x2="865.07" y2="423.28"/>
<line x1="869.34" y1="441.2" x2="869.34" y2="423.15"/>
<line x1="873.61" y1="441.2" x2="873.61" y2="423.45"/>
<line x1="877.87" y1="441.2" x2="877.87" y2="424.04"/>
<line x1="882.14" y1="441.2" x2="882.14" y2="424.75"/>
<line x1="886.41" y1="441.2" x2="886.41" y2="425.34"/>
<line x1="890.67" y1="441.2" x2="890.67" y2="427.09"/>
<line x1="894.94" y1="441.2" x2="894.94" y2="428.50"/>
<line x1="899.21" y1="441.2" x2="899.21" y2="430.44"/>
<line x1="903.47" y1="441.2" x2="903.47" y2="431.74"/>
<line x1="907.74" y1="441.2" x2="907.74" y2="433.19"/>
<line x1="912.01" y1="441.2" x2="912.01" y2="434.21"/>
<line x1="916.27" y1="441.2" x2="916.27" y2="435.62"/>
<line x1="920.54" y1="441.2" x2="920.54" y2="437.32"/>
<line x1="924.81" y1="441.2" x2="924.81" y2="438.23"/>
<line x1="929.07" y1="441.2" x2="929.07" y2="439.40"/>
<line x1="933.34" y1="441.2" x2="933.34" y2="439.62"/>
<line x1="937.61" y1="441.2" x2="937.61" y2="440.31"/>
<line x1="941.87" y1="441.2" x2="941.87" y2="440.73"/>
<line x1="946.14" y1="441.2" x2="946.14" y2="440.92"/>
<line x1="950.41" y1="441.2" x2="950.41" y2="441.01"/>
<line x1="954.67" y1="441.2" x2="954.67" y2="441.61"/>
<line x1="958.94" y1="441.2" x2="958.94" y2="441.62"/>
<line x1="963.21" y1="441.2" x2="963.21" y2="441.36"/>
<line x1="967.47" y1="441.2" x2="967.47" y2="440.53"/>
<line x1="971.74" y1="441.2" x2="971.74" y2="440.38"/>
<line x1="976.01" y1="441.2" x2="976.01" y2="440.00"/>
<line x1="980.27" y1="441.2" x2="980.27" y2="440.08"/>
<line x1="984.54" y1="441.2" x2="984.54" y2="440.32"/>
</g>
<polyline fill="none" stroke="#64dcd2" stroke-width="1.35" stroke-linejoin="round" stroke-opacity="0.82" points="3.20,433.29 7.47,433.88 11.73,434.33 16.00,434.73 20.27,435.05 24.53,435.28 28.80,435.39 33.07,435.40 37.33,435.23 41.60,434.86 45.87,434.76 50.13,435.08 54.40,435.59 58.67,436.35 62.93,437.16 67.20,438.06 71.47,439.07 75.73,440.24 80.00,441.22 84.27,441.89 88.53,442.27 92.80,442.44 97.07,442.41 101.33,442.32 105.60,442.19 109.87,441.95 114.13,441.61 118.40,441.10 122.67,440.62 126.93,440.05 131.20,439.34 135.47,438.81 139.73,438.61 144.00,438.54 148.27,438.60 152.53,439.14 156.80,440.46 161.07,442.18 165.33,444.17 169.60,446.59 173.87,449.00 178.13,451.20 182.40,453.29 186.67,455.28 190.93,456.78 195.20,457.61 199.47,457.91 203.73,457.78 208.00,457.31 212.27,456.54 216.53,455.71 220.80,454.85 225.07,453.88 229.34,452.76 233.60,451.66 237.87,450.68 242.14,449.70 246.40,448.28 250.67,446.47 254.94,444.26 259.20,441.56 263.47,438.83 267.74,436.19 272.00,433.60 276.27,430.98 280.54,428.65 284.80,426.99 289.07,425.98 293.34,425.47 297.60,425.49 301.87,425.70 306.14,426.04 310.40,426.26 314.67,426.38 318.94,426.39 323.20,426.34 327.47,426.31 331.74,426.22 336.00,426.10 340.27,425.67 344.54,425.19 348.80,424.85 353.07,424.66 357.34,424.55 361.60,424.39 365.87,424.14 370.14,423.93 374.40,423.85 378.67,424.17 382.94,424.66 387.20,425.23 391.47,425.91 395.74,426.63 400.00,427.35 404.27,428.02 408.54,428.57 412.80,429.11 417.07,429.57 421.34,430.05 425.60,429.55 429.87,428.02 434.14,425.52 438.40,422.43 442.67,418.94 446.94,415.35 451.20,411.35 455.47,407.29 459.74,403.10 464.00,399.80 468.27,397.52 472.54,396.23 476.80,395.55 481.07,395.38 485.34,395.52 489.60,396.11 493.87,396.85 498.14,397.89 502.40,399.00 506.67,400.28 510.94,401.56 515.20,402.87 519.47,404.16 523.74,405.53 528.00,406.96 532.27,408.31 536.54,409.59 540.80,410.96 545.07,412.05 549.34,412.97 553.60,413.90 557.87,414.90 562.14,415.78 566.40,416.56 570.67,417.56 574.94,418.60 579.20,419.71 583.47,420.92 587.74,422.25 592.00,423.51 596.27,424.64 600.54,425.66 604.80,426.68 609.07,427.51 613.34,428.14 617.60,428.82 621.87,429.47 626.14,429.96 630.40,430.65 634.67,431.65 638.94,432.79 643.21,434.09 647.47,435.44 651.74,436.68 656.01,437.45 660.27,438.10 664.54,438.77 668.81,439.14 673.07,439.07 677.34,438.76 681.61,438.18 685.87,437.49 690.14,436.91 694.41,436.58 698.67,436.20 702.94,435.84 707.21,435.42 711.47,435.04 715.74,434.69 720.01,434.32 724.27,434.19 728.54,434.34 732.81,434.65 737.07,435.24 741.34,435.88 745.61,436.70 749.87,437.63 754.14,438.73 758.41,439.91 762.67,440.84 766.94,441.53 771.21,441.99 775.47,442.32 779.74,442.70 784.01,443.08 788.27,443.44 792.54,443.72 796.81,443.97 801.07,444.07 805.34,444.02 809.61,443.92 813.87,443.87 818.14,443.79 822.41,443.42 826.67,442.77 830.94,441.84 835.21,440.74 839.47,439.41 843.74,437.78 848.01,436.03 852.27,434.06 856.54,431.96 860.81,430.01 865.07,428.28 869.34,426.78 873.61,425.50 877.87,424.64 882.14,424.24 886.41,424.11 890.67,424.30 894.94,424.78 899.21,425.56 903.47,426.50 907.74,427.62 912.01,428.81 916.27,430.10 920.54,431.49 924.81,432.93 929.07,434.29 933.34,435.53 937.61,436.63 941.87,437.62 946.14,438.48 950.41,439.24 954.67,439.91 958.94,440.38 963.21,440.73 967.47,440.86 971.74,440.94 976.01,440.91 980.27,440.83 984.54,440.77"/>
<rect x="0" y="0" width="1024" height="1.2" fill="#3c3e52"/>
<rect x="0" y="0" width="1.1" height="477" fill="#909090"/>
<rect x="1022.8" y="0" width="1.2" height="477" fill="#8a8a95"/>
<line x1="2.6" y1="1.7" x2="996.5" y2="1.7" stroke="#a0a0b4" stroke-width="1" stroke-opacity="0.7"/>
<line x1="2.6" y1="1.6" x2="2.6" y2="463.5" stroke="#a0a0b4" stroke-width="1.1"/>
<line x1="996.5" y1="1.6" x2="996.5" y2="463.5" stroke="#a0a0b4" stroke-width="1.1"/>
<rect x="2.6" y="321.9" width="993.9" height="2.1" fill="#9c9cae"/>
<rect x="2.6" y="389.0" width="993.9" height="1.9" fill="#a0a0b2"/>
<line x1="3.1" y1="388.5" x2="996.5" y2="388.5" stroke="#a0a0b2" stroke-width="1" stroke-dasharray="1.6 1.6" stroke-dashoffset="3.06"/>
<line x1="2.6" y1="463.5" x2="996.5" y2="463.5" stroke="#a0a0b4" stroke-width="1.1"/>
<text x="999.30" y="5.30" font-size="5.6" fill="#c4c4cc" textLength="20.55" lengthAdjust="spacingAndGlyphs">35356.30</text>
<line x1="996.5" y1="3.20" x2="998.0" y2="3.20" stroke="#a0a0b4" stroke-width="0.8"/>
<text x="999.30" y="23.23" font-size="5.6" fill="#c4c4cc" textLength="20.55" lengthAdjust="spacingAndGlyphs">35273.00</text>
<line x1="996.5" y1="21.13" x2="998.0" y2="21.13" stroke="#a0a0b4" stroke-width="0.8"/>
<text x="999.30" y="40.64" font-size="5.6" fill="#c4c4cc" textLength="20.55" lengthAdjust="spacingAndGlyphs">35192.15</text>
<line x1="996.5" y1="38.54" x2="998.0" y2="38.54" stroke="#a0a0b4" stroke-width="0.8"/>
<text x="999.30" y="58.57" font-size="5.6" fill="#c4c4cc" textLength="20.55" lengthAdjust="spacingAndGlyphs">35108.85</text>
<line x1="996.5" y1="56.47" x2="998.0" y2="56.47" stroke="#a0a0b4" stroke-width="0.8"/>
<text x="999.30" y="75.98" font-size="5.6" fill="#c4c4cc" textLength="20.55" lengthAdjust="spacingAndGlyphs">35028.00</text>
<line x1="996.5" y1="73.88" x2="998.0" y2="73.88" stroke="#a0a0b4" stroke-width="0.8"/>
<text x="999.30" y="93.38" font-size="5.6" fill="#c4c4cc" textLength="20.55" lengthAdjust="spacingAndGlyphs">34947.15</text>
<line x1="996.5" y1="91.28" x2="998.0" y2="91.28" stroke="#a0a0b4" stroke-width="0.8"/>
<text x="999.30" y="111.32" font-size="5.6" fill="#c4c4cc" textLength="20.55" lengthAdjust="spacingAndGlyphs">34863.85</text>
<line x1="996.5" y1="109.22" x2="998.0" y2="109.22" stroke="#a0a0b4" stroke-width="0.8"/>
<text x="999.30" y="128.72" font-size="5.6" fill="#c4c4cc" textLength="20.55" lengthAdjust="spacingAndGlyphs">34783.00</text>
<line x1="996.5" y1="126.62" x2="998.0" y2="126.62" stroke="#a0a0b4" stroke-width="0.8"/>
<text x="999.30" y="146.66" font-size="5.6" fill="#c4c4cc" textLength="20.55" lengthAdjust="spacingAndGlyphs">34699.70</text>
<line x1="996.5" y1="144.56" x2="998.0" y2="144.56" stroke="#a0a0b4" stroke-width="0.8"/>
<text x="999.30" y="164.06" font-size="5.6" fill="#c4c4cc" textLength="20.55" lengthAdjust="spacingAndGlyphs">34618.85</text>
<line x1="996.5" y1="161.96" x2="998.0" y2="161.96" stroke="#a0a0b4" stroke-width="0.8"/>
<text x="999.30" y="181.47" font-size="5.6" fill="#c4c4cc" textLength="20.55" lengthAdjust="spacingAndGlyphs">34538.00</text>
<line x1="996.5" y1="179.37" x2="998.0" y2="179.37" stroke="#a0a0b4" stroke-width="0.8"/>
<text x="999.30" y="199.40" font-size="5.6" fill="#c4c4cc" textLength="20.55" lengthAdjust="spacingAndGlyphs">34454.70</text>
<line x1="996.5" y1="197.30" x2="998.0" y2="197.30" stroke="#a0a0b4" stroke-width="0.8"/>
<text x="999.30" y="216.81" font-size="5.6" fill="#c4c4cc" textLength="20.55" lengthAdjust="spacingAndGlyphs">34373.85</text>
<line x1="996.5" y1="214.71" x2="998.0" y2="214.71" stroke="#a0a0b4" stroke-width="0.8"/>
<text x="999.30" y="234.74" font-size="5.6" fill="#c4c4cc" textLength="20.55" lengthAdjust="spacingAndGlyphs">34290.55</text>
<line x1="996.5" y1="232.64" x2="998.0" y2="232.64" stroke="#a0a0b4" stroke-width="0.8"/>
<text x="999.30" y="252.15" font-size="5.6" fill="#c4c4cc" textLength="20.55" lengthAdjust="spacingAndGlyphs">34209.70</text>
<line x1="996.5" y1="250.05" x2="998.0" y2="250.05" stroke="#a0a0b4" stroke-width="0.8"/>
<text x="999.30" y="269.98" font-size="5.6" fill="#c4c4cc" textLength="20.55" lengthAdjust="spacingAndGlyphs">34126.85</text>
<line x1="996.5" y1="267.88" x2="998.0" y2="267.88" stroke="#a0a0b4" stroke-width="0.8"/>
<text x="999.30" y="287.49" font-size="5.6" fill="#c4c4cc" textLength="20.55" lengthAdjust="spacingAndGlyphs">34045.55</text>
<line x1="996.5" y1="285.39" x2="998.0" y2="285.39" stroke="#a0a0b4" stroke-width="0.8"/>
<text x="999.30" y="304.89" font-size="5.6" fill="#c4c4cc" textLength="20.55" lengthAdjust="spacingAndGlyphs">33964.70</text>
<line x1="996.5" y1="302.79" x2="998.0" y2="302.79" stroke="#a0a0b4" stroke-width="0.8"/>
<text x="999.30" y="322.30" font-size="5.6" fill="#c4c4cc" textLength="20.55" lengthAdjust="spacingAndGlyphs">33883.85</text>
<line x1="996.5" y1="320.20" x2="998.0" y2="320.20" stroke="#a0a0b4" stroke-width="0.8"/>
<text x="998.10" y="328.50" font-size="5.6" fill="#c4c4cc" textLength="8.22" lengthAdjust="spacingAndGlyphs">100</text>
<text x="998.10" y="345.60" font-size="5.6" fill="#c4c4cc" textLength="5.48" lengthAdjust="spacingAndGlyphs">70</text>
<text x="998.10" y="371.70" font-size="5.6" fill="#c4c4cc" textLength="5.48" lengthAdjust="spacingAndGlyphs">30</text>
<text x="998.10" y="387.50" font-size="5.6" fill="#c4c4cc" textLength="2.74" lengthAdjust="spacingAndGlyphs">0</text>
<text x="998.10" y="395.90" font-size="5.6" fill="#c4c4cc" textLength="17.81" lengthAdjust="spacingAndGlyphs">166.465</text>
<text x="998.10" y="443.40" font-size="5.6" fill="#c4c4cc" textLength="9.59" lengthAdjust="spacingAndGlyphs">0.00</text>
<text x="998.10" y="461.30" font-size="5.6" fill="#c4c4cc" textLength="16.71" lengthAdjust="spacingAndGlyphs">-71.836</text>
<line x1="996.5" y1="343.50" x2="998.0" y2="343.50" stroke="#a0a0b4" stroke-width="0.8"/>
<line x1="996.5" y1="369.60" x2="998.0" y2="369.60" stroke="#a0a0b4" stroke-width="0.8"/>
<line x1="996.5" y1="441.20" x2="998.0" y2="441.20" stroke="#a0a0b4" stroke-width="0.8"/>
<rect x="997.5" y="44.2" width="24.3" height="6" fill="#f4f4f4"/>
<text x="999.30" y="49.30" font-size="5.6" fill="#101138" textLength="20.55" lengthAdjust="spacingAndGlyphs">35151.50</text>
<text x="2.40" y="470.20" font-size="5.6" fill="#c4c4cc" textLength="26.21" lengthAdjust="spacingAndGlyphs">8 Nov 2023</text>
<line x1="37.33" y1="463.5" x2="37.33" y2="465.2" stroke="#a0a0b4" stroke-width="0.8"/>
<text x="36.73" y="470.20" font-size="5.6" fill="#c4c4cc" textLength="27.63" lengthAdjust="spacingAndGlyphs">8 Nov 16:00</text>
<line x1="71.47" y1="463.5" x2="71.47" y2="465.2" stroke="#a0a0b4" stroke-width="0.8"/>
<text x="70.87" y="470.20" font-size="5.6" fill="#c4c4cc" textLength="27.63" lengthAdjust="spacingAndGlyphs">9 Nov 01:00</text>
<line x1="105.60" y1="463.5" x2="105.60" y2="465.2" stroke="#a0a0b4" stroke-width="0.8"/>
<text x="105.00" y="470.20" font-size="5.6" fill="#c4c4cc" textLength="27.63" lengthAdjust="spacingAndGlyphs">9 Nov 09:00</text>
<line x1="139.73" y1="463.5" x2="139.73" y2="465.2" stroke="#a0a0b4" stroke-width="0.8"/>
<text x="139.13" y="470.20" font-size="5.6" fill="#c4c4cc" textLength="27.63" lengthAdjust="spacingAndGlyphs">9 Nov 17:00</text>
<line x1="173.87" y1="463.5" x2="173.87" y2="465.2" stroke="#a0a0b4" stroke-width="0.8"/>
<text x="173.27" y="470.20" font-size="5.6" fill="#c4c4cc" textLength="30.48" lengthAdjust="spacingAndGlyphs">10 Nov 02:00</text>
<line x1="208.00" y1="463.5" x2="208.00" y2="465.2" stroke="#a0a0b4" stroke-width="0.8"/>
<text x="207.40" y="470.20" font-size="5.6" fill="#c4c4cc" textLength="30.48" lengthAdjust="spacingAndGlyphs">10 Nov 10:00</text>
<line x1="242.14" y1="463.5" x2="242.14" y2="465.2" stroke="#a0a0b4" stroke-width="0.8"/>
<text x="241.54" y="470.20" font-size="5.6" fill="#c4c4cc" textLength="30.48" lengthAdjust="spacingAndGlyphs">10 Nov 18:00</text>
<line x1="276.27" y1="463.5" x2="276.27" y2="465.2" stroke="#a0a0b4" stroke-width="0.8"/>
<text x="275.67" y="470.20" font-size="5.6" fill="#c4c4cc" textLength="30.48" lengthAdjust="spacingAndGlyphs">13 Nov 03:00</text>
<line x1="310.40" y1="463.5" x2="310.40" y2="465.2" stroke="#a0a0b4" stroke-width="0.8"/>
<text x="309.80" y="470.20" font-size="5.6" fill="#c4c4cc" textLength="30.10" lengthAdjust="spacingAndGlyphs">13 Nov 11:00</text>
<line x1="344.54" y1="463.5" x2="344.54" y2="465.2" stroke="#a0a0b4" stroke-width="0.8"/>
<text x="343.94" y="470.20" font-size="5.6" fill="#c4c4cc" textLength="30.48" lengthAdjust="spacingAndGlyphs">13 Nov 19:00</text>
<line x1="378.67" y1="463.5" x2="378.67" y2="465.2" stroke="#a0a0b4" stroke-width="0.8"/>
<text x="378.07" y="470.20" font-size="5.6" fill="#c4c4cc" textLength="30.48" lengthAdjust="spacingAndGlyphs">14 Nov 04:00</text>
<line x1="412.80" y1="463.5" x2="412.80" y2="465.2" stroke="#a0a0b4" stroke-width="0.8"/>
<text x="412.20" y="470.20" font-size="5.6" fill="#c4c4cc" textLength="30.48" lengthAdjust="spacingAndGlyphs">14 Nov 12:00</text>
<line x1="446.94" y1="463.5" x2="446.94" y2="465.2" stroke="#a0a0b4" stroke-width="0.8"/>
<text x="446.34" y="470.20" font-size="5.6" fill="#c4c4cc" textLength="30.48" lengthAdjust="spacingAndGlyphs">14 Nov 20:00</text>
<line x1="481.07" y1="463.5" x2="481.07" y2="465.2" stroke="#a0a0b4" stroke-width="0.8"/>
<text x="480.47" y="470.20" font-size="5.6" fill="#c4c4cc" textLength="30.48" lengthAdjust="spacingAndGlyphs">15 Nov 05:00</text>
<line x1="515.20" y1="463.5" x2="515.20" y2="465.2" stroke="#a0a0b4" stroke-width="0.8"/>
<text x="514.60" y="470.20" font-size="5.6" fill="#c4c4cc" textLength="30.48" lengthAdjust="spacingAndGlyphs">15 Nov 13:00</text>
<line x1="549.34" y1="463.5" x2="549.34" y2="465.2" stroke="#a0a0b4" stroke-width="0.8"/>
<text x="548.74" y="470.20" font-size="5.6" fill="#c4c4cc" textLength="30.48" lengthAdjust="spacingAndGlyphs">15 Nov 21:00</text>
<line x1="583.47" y1="463.5" x2="583.47" y2="465.2" stroke="#a0a0b4" stroke-width="0.8"/>
<text x="582.87" y="470.20" font-size="5.6" fill="#c4c4cc" textLength="30.48" lengthAdjust="spacingAndGlyphs">16 Nov 06:00</text>
<line x1="617.60" y1="463.5" x2="617.60" y2="465.2" stroke="#a0a0b4" stroke-width="0.8"/>
<text x="617.00" y="470.20" font-size="5.6" fill="#c4c4cc" textLength="30.48" lengthAdjust="spacingAndGlyphs">16 Nov 14:00</text>
<line x1="651.74" y1="463.5" x2="651.74" y2="465.2" stroke="#a0a0b4" stroke-width="0.8"/>
<text x="651.14" y="470.20" font-size="5.6" fill="#c4c4cc" textLength="30.48" lengthAdjust="spacingAndGlyphs">16 Nov 22:00</text>
<line x1="685.87" y1="463.5" x2="685.87" y2="465.2" stroke="#a0a0b4" stroke-width="0.8"/>
<text x="685.27" y="470.20" font-size="5.6" fill="#c4c4cc" textLength="30.48" lengthAdjust="spacingAndGlyphs">17 Nov 07:00</text>
<line x1="720.01" y1="463.5" x2="720.01" y2="465.2" stroke="#a0a0b4" stroke-width="0.8"/>
<text x="719.41" y="470.20" font-size="5.6" fill="#c4c4cc" textLength="30.48" lengthAdjust="spacingAndGlyphs">17 Nov 15:00</text>
<line x1="754.14" y1="463.5" x2="754.14" y2="465.2" stroke="#a0a0b4" stroke-width="0.8"/>
<text x="753.54" y="470.20" font-size="5.6" fill="#c4c4cc" textLength="30.48" lengthAdjust="spacingAndGlyphs">17 Nov 23:00</text>
<line x1="788.27" y1="463.5" x2="788.27" y2="465.2" stroke="#a0a0b4" stroke-width="0.8"/>
<text x="787.67" y="470.20" font-size="5.6" fill="#c4c4cc" textLength="30.48" lengthAdjust="spacingAndGlyphs">20 Nov 08:00</text>
<line x1="822.41" y1="463.5" x2="822.41" y2="465.2" stroke="#a0a0b4" stroke-width="0.8"/>
<text x="821.81" y="470.20" font-size="5.6" fill="#c4c4cc" textLength="30.48" lengthAdjust="spacingAndGlyphs">20 Nov 16:00</text>
<line x1="856.54" y1="463.5" x2="856.54" y2="465.2" stroke="#a0a0b4" stroke-width="0.8"/>
<text x="855.94" y="470.20" font-size="5.6" fill="#c4c4cc" textLength="30.48" lengthAdjust="spacingAndGlyphs">21 Nov 01:00</text>
<line x1="890.67" y1="463.5" x2="890.67" y2="465.2" stroke="#a0a0b4" stroke-width="0.8"/>
<text x="890.07" y="470.20" font-size="5.6" fill="#c4c4cc" textLength="30.48" lengthAdjust="spacingAndGlyphs">21 Nov 09:00</text>
<line x1="924.81" y1="463.5" x2="924.81" y2="465.2" stroke="#a0a0b4" stroke-width="0.8"/>
<text x="924.21" y="470.20" font-size="5.6" fill="#c4c4cc" textLength="30.48" lengthAdjust="spacingAndGlyphs">21 Nov 17:00</text>
<line x1="958.94" y1="463.5" x2="958.94" y2="465.2" stroke="#a0a0b4" stroke-width="0.8"/>
<text x="958.34" y="470.20" font-size="5.6" fill="#c4c4cc" textLength="30.48" lengthAdjust="spacingAndGlyphs">22 Nov 02:00</text>
<path d="M4.6,5.2 L7.6,5.2 L6.1,7.0 Z" fill="#f0f0f0"/>
<text x="11.00" y="8.10" font-size="5.6" fill="#c4c4cc" textLength="26.30" lengthAdjust="spacingAndGlyphs">DJI30m+,H1</text>
<text x="39.80" y="8.10" font-size="5.6" fill="#c4c4cc" textLength="20.32" lengthAdjust="spacingAndGlyphs">35158.50</text>
<text x="62.20" y="8.10" font-size="5.6" fill="#c4c4cc" textLength="20.32" lengthAdjust="spacingAndGlyphs">35161.50</text>
<text x="84.20" y="8.10" font-size="5.6" fill="#c4c4cc" textLength="20.32" lengthAdjust="spacingAndGlyphs">35143.50</text>
<text x="105.70" y="8.10" font-size="5.6" fill="#c4c4cc" textLength="20.32" lengthAdjust="spacingAndGlyphs">35151.50</text>
<text x="4.90" y="330.20" font-size="5.6" fill="#c4c4cc" textLength="36.80" lengthAdjust="spacingAndGlyphs">RSI(14) 49.6667</text>
<text x="4.80" y="397.20" font-size="5.6" fill="#c4c4cc" textLength="63.40" lengthAdjust="spacingAndGlyphs">MACD(12,26,9) 3.206 1.489</text>
<rect x="0" y="473.6" width="1024" height="3.4" fill="#d8d8d8"/>
<rect x="0" y="473.6" width="1024" height="1.5" fill="#b4b4c4"/>
<rect x="0" y="475.1" width="174.2" height="0.8" fill="#8c8c8c"/>
<rect x="216.3" y="475.1" width="807.7" height="0.8" fill="#8c8c8c"/>
<rect x="174.6" y="474.8" width="41.3" height="2.2" fill="#ffffff"/>
<rect x="173.8" y="475.1" width="0.8" height="1.9" fill="#8c8c8c"/>
<rect x="215.9" y="475.1" width="0.8" height="1.9" fill="#8c8c8c"/>
<rect x="0" y="473.6" width="1.1" height="3.4" fill="#707070"/>
<path d="M2.6,460.4 L2.6,463.4 L5.4,463.4 Z" fill="#d0d0dc"/>
</svg></body></html>
